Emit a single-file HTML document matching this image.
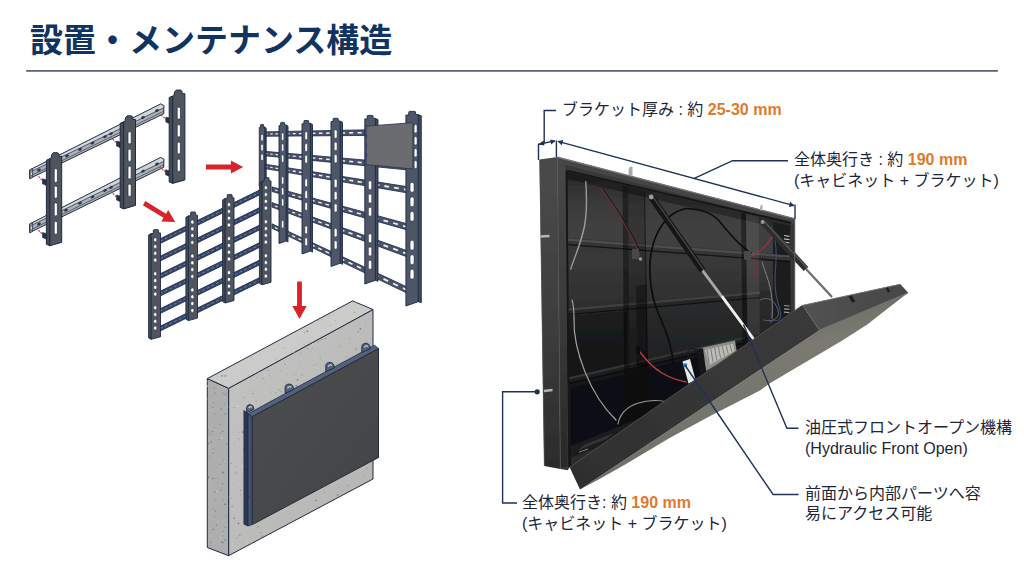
<!DOCTYPE html>
<html lang="ja">
<head>
<meta charset="utf-8">
<title>設置・メンテナンス構造</title>
<style>
html,body{margin:0;padding:0;background:#fff;}
body{width:1024px;height:572px;overflow:hidden;position:relative;font-family:"Liberation Sans","Noto Sans CJK JP",sans-serif;}
#slide{position:absolute;left:0;top:0;width:1024px;height:572px;background:#fff;overflow:hidden;}
#slide svg{position:absolute;left:0;top:0;display:block;}
.t{position:absolute;margin:0;white-space:nowrap;color:#1b263a;font-family:"Liberation Sans","Noto Sans CJK JP",sans-serif;line-height:1;}
.t b{font-weight:bold;color:#e07a2b;}
h1.t{font-weight:bold;color:#10335f;}
</style>
</head>
<body>
<div id="slide">
<svg width="1024" height="572" viewBox="0 0 1024 572">
<rect width="1024" height="572" fill="#ffffff"/>
<rect x="26.2" y="70.1" width="971.7" height="1.6" fill="#4a5563"/>
<g id="grid3"><polygon points="262,131.9 335,130.4 408,129 408,135.2 335,135.7 262,136.3" fill="#48536b" stroke="#1e2b44" stroke-width="0.8" stroke-linejoin="round"/>
<line x1="265" y1="134" x2="267.5" y2="134" stroke="#eef0f3" stroke-width="1.1" />
<line x1="270.2" y1="134" x2="272.7" y2="133.9" stroke="#eef0f3" stroke-width="1.1" />
<line x1="275.5" y1="133.9" x2="278.1" y2="133.9" stroke="#eef0f3" stroke-width="1.2" />
<line x1="281" y1="133.8" x2="283.8" y2="133.8" stroke="#eef0f3" stroke-width="1.2" />
<line x1="286.8" y1="133.7" x2="289.6" y2="133.7" stroke="#eef0f3" stroke-width="1.2" />
<line x1="292.8" y1="133.7" x2="295.7" y2="133.6" stroke="#eef0f3" stroke-width="1.3" />
<line x1="299" y1="133.6" x2="302" y2="133.5" stroke="#eef0f3" stroke-width="1.3" />
<line x1="305.4" y1="133.5" x2="308.5" y2="133.4" stroke="#eef0f3" stroke-width="1.3" />
<line x1="312" y1="133.4" x2="315.3" y2="133.3" stroke="#eef0f3" stroke-width="1.4" />
<line x1="318.9" y1="133.3" x2="322.4" y2="133.2" stroke="#eef0f3" stroke-width="1.4" />
<line x1="326.1" y1="133.2" x2="329.7" y2="133.1" stroke="#eef0f3" stroke-width="1.5" />
<line x1="333.6" y1="133.1" x2="337.2" y2="133" stroke="#eef0f3" stroke-width="1.5" />
<line x1="341.3" y1="133" x2="345.1" y2="132.9" stroke="#eef0f3" stroke-width="1.5" />
<line x1="349.3" y1="132.9" x2="353.2" y2="132.8" stroke="#eef0f3" stroke-width="1.6" />
<line x1="357.6" y1="132.8" x2="361.7" y2="132.7" stroke="#eef0f3" stroke-width="1.6" />
<line x1="366.2" y1="132.6" x2="370.4" y2="132.6" stroke="#eef0f3" stroke-width="1.7" />
<line x1="375.1" y1="132.5" x2="379.5" y2="132.5" stroke="#eef0f3" stroke-width="1.7" />
<line x1="384.4" y1="132.4" x2="389" y2="132.3" stroke="#eef0f3" stroke-width="1.8" />
<line x1="394" y1="132.3" x2="398.8" y2="132.2" stroke="#eef0f3" stroke-width="1.8" />
<line x1="404" y1="132.1" x2="408.9" y2="132" stroke="#eef0f3" stroke-width="1.9" />
<polygon points="262,151.1 335,157.4 408,163.8 408,170 335,162.7 262,155.5" fill="#48536b" stroke="#1e2b44" stroke-width="0.8" stroke-linejoin="round"/>
<line x1="265" y1="153.6" x2="267.5" y2="153.8" stroke="#eef0f3" stroke-width="1.1" />
<line x1="270.2" y1="154" x2="272.7" y2="154.3" stroke="#eef0f3" stroke-width="1.1" />
<line x1="275.5" y1="154.5" x2="278.1" y2="154.8" stroke="#eef0f3" stroke-width="1.2" />
<line x1="281" y1="155.1" x2="283.8" y2="155.3" stroke="#eef0f3" stroke-width="1.2" />
<line x1="286.8" y1="155.6" x2="289.6" y2="155.9" stroke="#eef0f3" stroke-width="1.2" />
<line x1="292.8" y1="156.1" x2="295.7" y2="156.4" stroke="#eef0f3" stroke-width="1.3" />
<line x1="299" y1="156.7" x2="302" y2="157" stroke="#eef0f3" stroke-width="1.3" />
<line x1="305.4" y1="157.3" x2="308.5" y2="157.6" stroke="#eef0f3" stroke-width="1.3" />
<line x1="312" y1="157.9" x2="315.3" y2="158.3" stroke="#eef0f3" stroke-width="1.4" />
<line x1="318.9" y1="158.6" x2="322.4" y2="158.9" stroke="#eef0f3" stroke-width="1.4" />
<line x1="326.1" y1="159.3" x2="329.7" y2="159.6" stroke="#eef0f3" stroke-width="1.5" />
<line x1="333.6" y1="160" x2="337.2" y2="160.3" stroke="#eef0f3" stroke-width="1.5" />
<line x1="341.3" y1="160.7" x2="345.1" y2="161" stroke="#eef0f3" stroke-width="1.5" />
<line x1="349.3" y1="161.4" x2="353.2" y2="161.8" stroke="#eef0f3" stroke-width="1.6" />
<line x1="357.6" y1="162.2" x2="361.7" y2="162.6" stroke="#eef0f3" stroke-width="1.6" />
<line x1="366.2" y1="163" x2="370.4" y2="163.4" stroke="#eef0f3" stroke-width="1.7" />
<line x1="375.1" y1="163.9" x2="379.5" y2="164.3" stroke="#eef0f3" stroke-width="1.7" />
<line x1="384.4" y1="164.7" x2="389" y2="165.1" stroke="#eef0f3" stroke-width="1.8" />
<line x1="394" y1="165.6" x2="398.8" y2="166.1" stroke="#eef0f3" stroke-width="1.8" />
<line x1="404" y1="166.6" x2="408.9" y2="167" stroke="#eef0f3" stroke-width="1.9" />
<polygon points="262,163.7 335,175.3 408,186.8 408,193 335,180.6 262,168.1" fill="#48536b" stroke="#1e2b44" stroke-width="0.8" stroke-linejoin="round"/>
<line x1="265" y1="166.4" x2="267.5" y2="166.8" stroke="#eef0f3" stroke-width="1.1" />
<line x1="270.2" y1="167.3" x2="272.7" y2="167.7" stroke="#eef0f3" stroke-width="1.1" />
<line x1="275.5" y1="168.1" x2="278.1" y2="168.6" stroke="#eef0f3" stroke-width="1.2" />
<line x1="281" y1="169" x2="283.8" y2="169.5" stroke="#eef0f3" stroke-width="1.2" />
<line x1="286.8" y1="170" x2="289.6" y2="170.5" stroke="#eef0f3" stroke-width="1.2" />
<line x1="292.8" y1="171" x2="295.7" y2="171.5" stroke="#eef0f3" stroke-width="1.3" />
<line x1="299" y1="172" x2="302" y2="172.5" stroke="#eef0f3" stroke-width="1.3" />
<line x1="305.4" y1="173" x2="308.5" y2="173.6" stroke="#eef0f3" stroke-width="1.3" />
<line x1="312" y1="174.1" x2="315.3" y2="174.7" stroke="#eef0f3" stroke-width="1.4" />
<line x1="318.9" y1="175.3" x2="322.4" y2="175.8" stroke="#eef0f3" stroke-width="1.4" />
<line x1="326.1" y1="176.5" x2="329.7" y2="177" stroke="#eef0f3" stroke-width="1.5" />
<line x1="333.6" y1="177.7" x2="337.2" y2="178.3" stroke="#eef0f3" stroke-width="1.5" />
<line x1="341.3" y1="178.9" x2="345.1" y2="179.6" stroke="#eef0f3" stroke-width="1.5" />
<line x1="349.3" y1="180.3" x2="353.2" y2="180.9" stroke="#eef0f3" stroke-width="1.6" />
<line x1="357.6" y1="181.6" x2="361.7" y2="182.3" stroke="#eef0f3" stroke-width="1.6" />
<line x1="366.2" y1="183" x2="370.4" y2="183.7" stroke="#eef0f3" stroke-width="1.7" />
<line x1="375.1" y1="184.5" x2="379.5" y2="185.2" stroke="#eef0f3" stroke-width="1.7" />
<line x1="384.4" y1="186" x2="389" y2="186.8" stroke="#eef0f3" stroke-width="1.8" />
<line x1="394" y1="187.6" x2="398.8" y2="188.4" stroke="#eef0f3" stroke-width="1.8" />
<line x1="404" y1="189.2" x2="408.9" y2="190.1" stroke="#eef0f3" stroke-width="1.9" />
<polygon points="272,186.9 340,205.5 408,224 408,230.2 340,210.9 272,191.5" fill="#48536b" stroke="#1e2b44" stroke-width="0.8" stroke-linejoin="round"/>
<line x1="275" y1="190" x2="277.6" y2="190.8" stroke="#eef0f3" stroke-width="1.2" />
<line x1="280.5" y1="191.6" x2="283.3" y2="192.3" stroke="#eef0f3" stroke-width="1.2" />
<line x1="286.3" y1="193.2" x2="289.1" y2="194" stroke="#eef0f3" stroke-width="1.2" />
<line x1="292.2" y1="194.8" x2="295.1" y2="195.7" stroke="#eef0f3" stroke-width="1.3" />
<line x1="298.4" y1="196.6" x2="301.4" y2="197.4" stroke="#eef0f3" stroke-width="1.3" />
<line x1="304.8" y1="198.3" x2="307.9" y2="199.2" stroke="#eef0f3" stroke-width="1.3" />
<line x1="311.4" y1="200.2" x2="314.7" y2="201.1" stroke="#eef0f3" stroke-width="1.4" />
<line x1="318.3" y1="202.1" x2="321.7" y2="203.1" stroke="#eef0f3" stroke-width="1.4" />
<line x1="325.4" y1="204.1" x2="329" y2="205.1" stroke="#eef0f3" stroke-width="1.4" />
<line x1="332.9" y1="206.2" x2="336.5" y2="207.2" stroke="#eef0f3" stroke-width="1.5" />
<line x1="340.6" y1="208.3" x2="344.4" y2="209.4" stroke="#eef0f3" stroke-width="1.5" />
<line x1="348.5" y1="210.6" x2="352.5" y2="211.7" stroke="#eef0f3" stroke-width="1.6" />
<line x1="356.8" y1="212.9" x2="360.9" y2="214" stroke="#eef0f3" stroke-width="1.6" />
<line x1="365.4" y1="215.3" x2="369.6" y2="216.4" stroke="#eef0f3" stroke-width="1.7" />
<line x1="374.3" y1="217.7" x2="378.7" y2="219" stroke="#eef0f3" stroke-width="1.7" />
<line x1="383.5" y1="220.3" x2="388.1" y2="221.6" stroke="#eef0f3" stroke-width="1.8" />
<line x1="393.1" y1="223" x2="397.9" y2="224.3" stroke="#eef0f3" stroke-width="1.8" />
<line x1="403.1" y1="225.8" x2="408" y2="227.1" stroke="#eef0f3" stroke-width="1.9" />
<polygon points="272,202.6 340,226.8 408,251 408,257.2 340,232.2 272,207.1" fill="#48536b" stroke="#1e2b44" stroke-width="0.8" stroke-linejoin="round"/>
<line x1="275" y1="206" x2="277.6" y2="206.9" stroke="#eef0f3" stroke-width="1.2" />
<line x1="280.5" y1="208" x2="283.3" y2="208.9" stroke="#eef0f3" stroke-width="1.2" />
<line x1="286.3" y1="210" x2="289.1" y2="211.1" stroke="#eef0f3" stroke-width="1.2" />
<line x1="292.2" y1="212.2" x2="295.1" y2="213.2" stroke="#eef0f3" stroke-width="1.3" />
<line x1="298.4" y1="214.4" x2="301.4" y2="215.5" stroke="#eef0f3" stroke-width="1.3" />
<line x1="304.8" y1="216.7" x2="307.9" y2="217.9" stroke="#eef0f3" stroke-width="1.3" />
<line x1="311.4" y1="219.1" x2="314.7" y2="220.3" stroke="#eef0f3" stroke-width="1.4" />
<line x1="318.3" y1="221.6" x2="321.7" y2="222.9" stroke="#eef0f3" stroke-width="1.4" />
<line x1="325.4" y1="224.2" x2="329" y2="225.5" stroke="#eef0f3" stroke-width="1.4" />
<line x1="332.9" y1="226.9" x2="336.5" y2="228.2" stroke="#eef0f3" stroke-width="1.5" />
<line x1="340.6" y1="229.7" x2="344.4" y2="231.1" stroke="#eef0f3" stroke-width="1.5" />
<line x1="348.5" y1="232.6" x2="352.5" y2="234" stroke="#eef0f3" stroke-width="1.6" />
<line x1="356.8" y1="235.6" x2="360.9" y2="237" stroke="#eef0f3" stroke-width="1.6" />
<line x1="365.4" y1="238.7" x2="369.6" y2="240.2" stroke="#eef0f3" stroke-width="1.7" />
<line x1="374.3" y1="241.9" x2="378.7" y2="243.5" stroke="#eef0f3" stroke-width="1.7" />
<line x1="383.5" y1="245.2" x2="388.1" y2="246.9" stroke="#eef0f3" stroke-width="1.8" />
<line x1="393.1" y1="248.7" x2="397.9" y2="250.4" stroke="#eef0f3" stroke-width="1.8" />
<line x1="403.1" y1="252.3" x2="408" y2="254.1" stroke="#eef0f3" stroke-width="1.9" />
<polygon points="272,223.8 340,255.6 408,287.4 408,293.6 340,261 272,228.3" fill="#48536b" stroke="#1e2b44" stroke-width="0.8" stroke-linejoin="round"/>
<line x1="275" y1="227.5" x2="277.6" y2="228.7" stroke="#eef0f3" stroke-width="1.2" />
<line x1="280.5" y1="230.1" x2="283.3" y2="231.4" stroke="#eef0f3" stroke-width="1.2" />
<line x1="286.3" y1="232.8" x2="289.1" y2="234.2" stroke="#eef0f3" stroke-width="1.2" />
<line x1="292.2" y1="235.6" x2="295.1" y2="237" stroke="#eef0f3" stroke-width="1.3" />
<line x1="298.4" y1="238.6" x2="301.4" y2="240" stroke="#eef0f3" stroke-width="1.3" />
<line x1="304.8" y1="241.6" x2="307.9" y2="243.1" stroke="#eef0f3" stroke-width="1.3" />
<line x1="311.4" y1="244.7" x2="314.7" y2="246.3" stroke="#eef0f3" stroke-width="1.4" />
<line x1="318.3" y1="248" x2="321.7" y2="249.6" stroke="#eef0f3" stroke-width="1.4" />
<line x1="325.4" y1="251.4" x2="329" y2="253.1" stroke="#eef0f3" stroke-width="1.4" />
<line x1="332.9" y1="254.9" x2="336.5" y2="256.6" stroke="#eef0f3" stroke-width="1.5" />
<line x1="340.6" y1="258.6" x2="344.4" y2="260.4" stroke="#eef0f3" stroke-width="1.5" />
<line x1="348.5" y1="262.3" x2="352.5" y2="264.2" stroke="#eef0f3" stroke-width="1.6" />
<line x1="356.8" y1="266.3" x2="360.9" y2="268.2" stroke="#eef0f3" stroke-width="1.6" />
<line x1="365.4" y1="270.3" x2="369.6" y2="272.3" stroke="#eef0f3" stroke-width="1.7" />
<line x1="374.3" y1="274.6" x2="378.7" y2="276.6" stroke="#eef0f3" stroke-width="1.7" />
<line x1="383.5" y1="278.9" x2="388.1" y2="281.1" stroke="#eef0f3" stroke-width="1.8" />
<line x1="393.1" y1="283.5" x2="397.9" y2="285.7" stroke="#eef0f3" stroke-width="1.8" />
<line x1="403.1" y1="288.2" x2="408" y2="290.5" stroke="#eef0f3" stroke-width="1.9" />
<polygon points="264.8,127.1 266.2,128.3 266.2,185.1 264.8,184.1" fill="#414a5c" stroke="#1e2b44" stroke-width="0.9" stroke-linejoin="round"/>
<polygon points="259.3,186 259.3,127.5 260.5,127.5 260.6,124.9 261,124.6 263.4,124.6 263.6,125 263.7,127.1 264.8,127.1 264.8,184.1" fill="#4e5667" stroke="#1e2b44" stroke-width="0.9" stroke-linejoin="miter"/>
<rect x="260.9" y="134.4" width="2.3" height="6.7" rx="1.1" fill="#ffffff" stroke="#1e2b44" stroke-width="0.5"/>
<rect x="260.9" y="144.2" width="2.3" height="6.7" rx="1.1" fill="#ffffff" stroke="#1e2b44" stroke-width="0.5"/>
<rect x="260.9" y="153.9" width="2.3" height="6.7" rx="1.1" fill="#ffffff" stroke="#1e2b44" stroke-width="0.5"/>
<polygon points="286.2,125 288,126.2 288,242 286.2,241" fill="#414a5c" stroke="#1e2b44" stroke-width="0.9" stroke-linejoin="round"/>
<polygon points="279,243.5 279,125.5 280.6,125.5 280.7,122.7 281.2,122.4 284.3,122.4 284.6,122.8 284.8,125 286.2,125 286.2,241" fill="#4e5667" stroke="#1e2b44" stroke-width="0.9" stroke-linejoin="miter"/>
<rect x="281.5" y="133" width="2.3" height="7.4" rx="1.1" fill="#ffffff" stroke="#1e2b44" stroke-width="0.5"/>
<rect x="281.5" y="143.9" width="2.3" height="7.4" rx="1.1" fill="#ffffff" stroke="#1e2b44" stroke-width="0.5"/>
<rect x="281.5" y="154.9" width="2.3" height="7.4" rx="1.1" fill="#ffffff" stroke="#1e2b44" stroke-width="0.5"/>
<rect x="281.5" y="176.8" width="2.3" height="7.4" rx="1.1" fill="#ffffff" stroke="#1e2b44" stroke-width="0.5"/>
<rect x="281.5" y="187.7" width="2.3" height="7.4" rx="1.1" fill="#ffffff" stroke="#1e2b44" stroke-width="0.5"/>
<rect x="281.5" y="198.7" width="2.3" height="7.4" rx="1.1" fill="#ffffff" stroke="#1e2b44" stroke-width="0.5"/>
<rect x="281.5" y="220.6" width="2.3" height="7.4" rx="1.1" fill="#ffffff" stroke="#1e2b44" stroke-width="0.5"/>
<polygon points="310.4,123.3 312.5,124.5 312.5,252.1 310.4,251.1" fill="#414a5c" stroke="#1e2b44" stroke-width="0.9" stroke-linejoin="round"/>
<polygon points="302,254 302,123.8 303.8,123.8 304,120.8 304.5,120.5 308.2,120.5 308.6,120.9 308.7,123.3 310.4,123.3 310.4,251.1" fill="#4e5667" stroke="#1e2b44" stroke-width="0.9" stroke-linejoin="miter"/>
<rect x="304.9" y="131.7" width="2.6" height="8" rx="1.3" fill="#ffffff" stroke="#1e2b44" stroke-width="0.5"/>
<rect x="304.9" y="143.5" width="2.6" height="8" rx="1.3" fill="#ffffff" stroke="#1e2b44" stroke-width="0.5"/>
<rect x="304.9" y="155.2" width="2.6" height="8" rx="1.3" fill="#ffffff" stroke="#1e2b44" stroke-width="0.5"/>
<rect x="304.9" y="178.8" width="2.6" height="8" rx="1.3" fill="#ffffff" stroke="#1e2b44" stroke-width="0.5"/>
<rect x="304.9" y="190.6" width="2.6" height="8" rx="1.3" fill="#ffffff" stroke="#1e2b44" stroke-width="0.5"/>
<rect x="304.9" y="202.4" width="2.6" height="8" rx="1.3" fill="#ffffff" stroke="#1e2b44" stroke-width="0.5"/>
<rect x="304.9" y="225.9" width="2.6" height="8" rx="1.3" fill="#ffffff" stroke="#1e2b44" stroke-width="0.5"/>
<rect x="304.9" y="237.7" width="2.6" height="8" rx="1.3" fill="#ffffff" stroke="#1e2b44" stroke-width="0.5"/>
<polygon points="340.2,121.1 342.5,122.3 342.5,264.3 340.2,263.3" fill="#414a5c" stroke="#1e2b44" stroke-width="0.9" stroke-linejoin="round"/>
<polygon points="331,266.5 331,121.6 333,121.6 333.2,118.6 333.8,118.3 337.8,118.3 338.2,118.7 338.4,121.1 340.2,121.1 340.2,263.3" fill="#4e5667" stroke="#1e2b44" stroke-width="0.9" stroke-linejoin="miter"/>
<rect x="334.2" y="129.9" width="2.9" height="8.4" rx="1.4" fill="#ffffff" stroke="#1e2b44" stroke-width="0.5"/>
<rect x="334.2" y="142.2" width="2.9" height="8.4" rx="1.4" fill="#ffffff" stroke="#1e2b44" stroke-width="0.5"/>
<rect x="334.2" y="154.5" width="2.9" height="8.4" rx="1.4" fill="#ffffff" stroke="#1e2b44" stroke-width="0.5"/>
<rect x="334.2" y="179.2" width="2.9" height="8.4" rx="1.4" fill="#ffffff" stroke="#1e2b44" stroke-width="0.5"/>
<rect x="334.2" y="191.5" width="2.9" height="8.4" rx="1.4" fill="#ffffff" stroke="#1e2b44" stroke-width="0.5"/>
<rect x="334.2" y="203.8" width="2.9" height="8.4" rx="1.4" fill="#ffffff" stroke="#1e2b44" stroke-width="0.5"/>
<rect x="334.2" y="228.5" width="2.9" height="8.4" rx="1.4" fill="#ffffff" stroke="#1e2b44" stroke-width="0.5"/>
<rect x="334.2" y="240.8" width="2.9" height="8.4" rx="1.4" fill="#ffffff" stroke="#1e2b44" stroke-width="0.5"/>
<polygon points="375.4,118.4 378,119.6 378,281.3 375.4,280.3" fill="#414a5c" stroke="#1e2b44" stroke-width="0.9" stroke-linejoin="round"/>
<polygon points="364.8,284 364.8,118.9 367.1,118.9 367.3,115.7 368,115.4 372.6,115.4 373,115.8 373.2,118.4 375.4,118.4 375.4,280.3" fill="#4e5667" stroke="#1e2b44" stroke-width="0.9" stroke-linejoin="miter"/>
<rect x="368.4" y="180.7" width="3.3" height="9" rx="1.6" fill="#ffffff" stroke="#1e2b44" stroke-width="0.5"/>
<rect x="368.4" y="194" width="3.3" height="9" rx="1.6" fill="#ffffff" stroke="#1e2b44" stroke-width="0.5"/>
<rect x="368.4" y="207.2" width="3.3" height="9" rx="1.6" fill="#ffffff" stroke="#1e2b44" stroke-width="0.5"/>
<rect x="368.4" y="233.8" width="3.3" height="9" rx="1.6" fill="#ffffff" stroke="#1e2b44" stroke-width="0.5"/>
<rect x="368.4" y="247" width="3.3" height="9" rx="1.6" fill="#ffffff" stroke="#1e2b44" stroke-width="0.5"/>
<rect x="368.4" y="260.3" width="3.3" height="9" rx="1.6" fill="#ffffff" stroke="#1e2b44" stroke-width="0.5"/>
<polygon points="418.2,114.6 421.3,115.8 421.3,302.7 418.2,301.7" fill="#414a5c" stroke="#1e2b44" stroke-width="0.9" stroke-linejoin="round"/>
<polygon points="405.9,306 405.9,115.1 408.6,115.1 408.9,111.7 409.6,111.4 415,111.4 415.5,111.8 415.8,114.6 418.2,114.6 418.2,301.7" fill="#4e5667" stroke="#1e2b44" stroke-width="0.9" stroke-linejoin="miter"/>
<rect x="410.1" y="182.4" width="3.9" height="9.8" rx="1.9" fill="#ffffff" stroke="#1e2b44" stroke-width="0.5"/>
<rect x="410.1" y="196.9" width="3.9" height="9.8" rx="1.9" fill="#ffffff" stroke="#1e2b44" stroke-width="0.5"/>
<rect x="410.1" y="211.4" width="3.9" height="9.8" rx="1.9" fill="#ffffff" stroke="#1e2b44" stroke-width="0.5"/>
<rect x="410.1" y="240.3" width="3.9" height="9.8" rx="1.9" fill="#ffffff" stroke="#1e2b44" stroke-width="0.5"/>
<rect x="410.1" y="254.8" width="3.9" height="9.8" rx="1.9" fill="#ffffff" stroke="#1e2b44" stroke-width="0.5"/>
<rect x="410.1" y="269.3" width="3.9" height="9.8" rx="1.9" fill="#ffffff" stroke="#1e2b44" stroke-width="0.5"/>
<polygon points="366.1,126.2 412.9,122.7 412.9,169 366.1,164.6" fill="#6b6c6f" stroke="#30394c" stroke-width="0.9" stroke-linejoin="round"/>
<rect x="414.1" y="124.5" width="3" height="8.5" rx="1.5" fill="#ffffff" stroke="#1e2b44" stroke-width="0.6"/>
<rect x="414.1" y="136.5" width="3" height="8.5" rx="1.5" fill="#ffffff" stroke="#1e2b44" stroke-width="0.6"/>
<rect x="414.1" y="148.5" width="3" height="8.5" rx="1.5" fill="#ffffff" stroke="#1e2b44" stroke-width="0.6"/>
<rect x="414.1" y="160.5" width="3" height="8" rx="1.5" fill="#ffffff" stroke="#1e2b44" stroke-width="0.6"/>
<rect x="365.2" y="134.5" width="2" height="2.6" fill="#2b3f86"/>
<rect x="365.2" y="144.5" width="2" height="2.6" fill="#2b3f86"/>
<rect x="365.2" y="154.5" width="2" height="2.6" fill="#2b3f86"/></g>
<g id="grid2"><polygon points="158,239.8 262,188.9 262,193.7 158,244.6" fill="#33446a" stroke="#1e2b44" stroke-width="0.8" stroke-linejoin="round"/>
<line x1="160" y1="241.2" x2="261" y2="191.8" stroke="#7f8aa3" stroke-width="0.9" stroke-dasharray="3 2.2"/>
<polygon points="158,257.3 262,206.4 262,211.2 158,262.1" fill="#33446a" stroke="#1e2b44" stroke-width="0.8" stroke-linejoin="round"/>
<line x1="160" y1="258.7" x2="261" y2="209.3" stroke="#7f8aa3" stroke-width="0.9" stroke-dasharray="3 2.2"/>
<polygon points="158,274.8 262,223.9 262,228.7 158,279.6" fill="#33446a" stroke="#1e2b44" stroke-width="0.8" stroke-linejoin="round"/>
<line x1="160" y1="276.2" x2="261" y2="226.8" stroke="#7f8aa3" stroke-width="0.9" stroke-dasharray="3 2.2"/>
<polygon points="158,292.3 262,241.4 262,246.2 158,297.1" fill="#33446a" stroke="#1e2b44" stroke-width="0.8" stroke-linejoin="round"/>
<line x1="160" y1="293.7" x2="261" y2="244.3" stroke="#7f8aa3" stroke-width="0.9" stroke-dasharray="3 2.2"/>
<polygon points="158,309.8 262,258.9 262,263.7 158,314.6" fill="#33446a" stroke="#1e2b44" stroke-width="0.8" stroke-linejoin="round"/>
<line x1="160" y1="311.2" x2="261" y2="261.8" stroke="#7f8aa3" stroke-width="0.9" stroke-dasharray="3 2.2"/>
<polygon points="158,327.3 262,276.4 262,281.2 158,332.1" fill="#33446a" stroke="#1e2b44" stroke-width="0.8" stroke-linejoin="round"/>
<line x1="160" y1="328.7" x2="261" y2="279.3" stroke="#7f8aa3" stroke-width="0.9" stroke-dasharray="3 2.2"/>
<polygon points="148.6,235 151.2,233.5 151.2,339.3 148.6,337.8" fill="#454b56" stroke="#1e2b44" stroke-width="0.9" stroke-linejoin="round"/>
<polygon points="151.2,339.3 151.2,233.5 153.2,233.5 153.4,230 154,229.7 158.1,229.7 158.5,230.1 158.6,232.9 160.5,232.9 160.5,336.8" fill="#4f545d" stroke="#1e2b44" stroke-width="0.9" stroke-linejoin="miter"/>
<rect x="153.7" y="237.7" width="3.1" height="4" rx="1.6" fill="#ffffff" stroke="#1e2b44" stroke-width="0.5"/>
<rect x="153.7" y="244.5" width="3.1" height="4" rx="1.6" fill="#ffffff" stroke="#1e2b44" stroke-width="0.5"/>
<rect x="153.7" y="251.3" width="3.1" height="4" rx="1.6" fill="#ffffff" stroke="#1e2b44" stroke-width="0.5"/>
<rect x="153.7" y="258.1" width="3.1" height="4" rx="1.6" fill="#ffffff" stroke="#1e2b44" stroke-width="0.5"/>
<rect x="153.7" y="271.7" width="3.1" height="4" rx="1.6" fill="#ffffff" stroke="#1e2b44" stroke-width="0.5"/>
<rect x="153.7" y="278.5" width="3.1" height="4" rx="1.6" fill="#ffffff" stroke="#1e2b44" stroke-width="0.5"/>
<rect x="153.7" y="285.3" width="3.1" height="4" rx="1.6" fill="#ffffff" stroke="#1e2b44" stroke-width="0.5"/>
<rect x="153.7" y="292.1" width="3.1" height="4" rx="1.6" fill="#ffffff" stroke="#1e2b44" stroke-width="0.5"/>
<rect x="153.7" y="305.7" width="3.1" height="4" rx="1.6" fill="#ffffff" stroke="#1e2b44" stroke-width="0.5"/>
<rect x="153.7" y="312.5" width="3.1" height="4" rx="1.6" fill="#ffffff" stroke="#1e2b44" stroke-width="0.5"/>
<rect x="153.7" y="319.3" width="3.1" height="4" rx="1.6" fill="#ffffff" stroke="#1e2b44" stroke-width="0.5"/>
<rect x="153.7" y="326.1" width="3.1" height="4" rx="1.6" fill="#ffffff" stroke="#1e2b44" stroke-width="0.5"/>
<polygon points="185.9,217.3 188.5,215.8 188.5,320.6 185.9,319.1" fill="#454b56" stroke="#1e2b44" stroke-width="0.9" stroke-linejoin="round"/>
<polygon points="188.5,320.6 188.5,215.8 190.5,215.8 190.7,212.3 191.2,212 195.2,212 195.5,212.4 195.7,215.2 197.5,215.2 197.5,318.1" fill="#4f545d" stroke="#1e2b44" stroke-width="0.9" stroke-linejoin="miter"/>
<rect x="190.8" y="220" width="3.1" height="4" rx="1.6" fill="#ffffff" stroke="#1e2b44" stroke-width="0.5"/>
<rect x="190.8" y="226.8" width="3.1" height="4" rx="1.6" fill="#ffffff" stroke="#1e2b44" stroke-width="0.5"/>
<rect x="190.8" y="233.6" width="3.1" height="4" rx="1.6" fill="#ffffff" stroke="#1e2b44" stroke-width="0.5"/>
<rect x="190.8" y="240.4" width="3.1" height="4" rx="1.6" fill="#ffffff" stroke="#1e2b44" stroke-width="0.5"/>
<rect x="190.8" y="254" width="3.1" height="4" rx="1.6" fill="#ffffff" stroke="#1e2b44" stroke-width="0.5"/>
<rect x="190.8" y="260.8" width="3.1" height="4" rx="1.6" fill="#ffffff" stroke="#1e2b44" stroke-width="0.5"/>
<rect x="190.8" y="267.6" width="3.1" height="4" rx="1.6" fill="#ffffff" stroke="#1e2b44" stroke-width="0.5"/>
<rect x="190.8" y="274.4" width="3.1" height="4" rx="1.6" fill="#ffffff" stroke="#1e2b44" stroke-width="0.5"/>
<rect x="190.8" y="288" width="3.1" height="4" rx="1.6" fill="#ffffff" stroke="#1e2b44" stroke-width="0.5"/>
<rect x="190.8" y="294.8" width="3.1" height="4" rx="1.6" fill="#ffffff" stroke="#1e2b44" stroke-width="0.5"/>
<rect x="190.8" y="301.6" width="3.1" height="4" rx="1.6" fill="#ffffff" stroke="#1e2b44" stroke-width="0.5"/>
<rect x="190.8" y="308.4" width="3.1" height="4" rx="1.6" fill="#ffffff" stroke="#1e2b44" stroke-width="0.5"/>
<polygon points="222.6,199.9 225.2,198.4 225.2,303 222.6,301.5" fill="#454b56" stroke="#1e2b44" stroke-width="0.9" stroke-linejoin="round"/>
<polygon points="225.2,303 225.2,198.4 227.1,198.4 227.3,194.9 227.8,194.6 231.7,194.6 232.1,195 232.2,197.8 234,197.8 234,300.5" fill="#4f545d" stroke="#1e2b44" stroke-width="0.9" stroke-linejoin="miter"/>
<rect x="227.4" y="202.6" width="3.1" height="4" rx="1.6" fill="#ffffff" stroke="#1e2b44" stroke-width="0.5"/>
<rect x="227.4" y="209.4" width="3.1" height="4" rx="1.6" fill="#ffffff" stroke="#1e2b44" stroke-width="0.5"/>
<rect x="227.4" y="216.2" width="3.1" height="4" rx="1.6" fill="#ffffff" stroke="#1e2b44" stroke-width="0.5"/>
<rect x="227.4" y="223" width="3.1" height="4" rx="1.6" fill="#ffffff" stroke="#1e2b44" stroke-width="0.5"/>
<rect x="227.4" y="236.6" width="3.1" height="4" rx="1.6" fill="#ffffff" stroke="#1e2b44" stroke-width="0.5"/>
<rect x="227.4" y="243.4" width="3.1" height="4" rx="1.6" fill="#ffffff" stroke="#1e2b44" stroke-width="0.5"/>
<rect x="227.4" y="250.2" width="3.1" height="4" rx="1.6" fill="#ffffff" stroke="#1e2b44" stroke-width="0.5"/>
<rect x="227.4" y="257" width="3.1" height="4" rx="1.6" fill="#ffffff" stroke="#1e2b44" stroke-width="0.5"/>
<rect x="227.4" y="270.6" width="3.1" height="4" rx="1.6" fill="#ffffff" stroke="#1e2b44" stroke-width="0.5"/>
<rect x="227.4" y="277.4" width="3.1" height="4" rx="1.6" fill="#ffffff" stroke="#1e2b44" stroke-width="0.5"/>
<rect x="227.4" y="284.2" width="3.1" height="4" rx="1.6" fill="#ffffff" stroke="#1e2b44" stroke-width="0.5"/>
<rect x="227.4" y="291" width="3.1" height="4" rx="1.6" fill="#ffffff" stroke="#1e2b44" stroke-width="0.5"/>
<polygon points="259.4,183 262,181.5 262,284.8 259.4,283.3" fill="#454b56" stroke="#1e2b44" stroke-width="0.9" stroke-linejoin="round"/>
<polygon points="262,284.8 262,181.5 264,181.5 264.2,178 264.7,177.7 268.7,177.7 269,178.1 269.2,180.9 271,180.9 271,282.3" fill="#4f545d" stroke="#1e2b44" stroke-width="0.9" stroke-linejoin="miter"/>
<rect x="264.3" y="185.7" width="3.1" height="4" rx="1.6" fill="#ffffff" stroke="#1e2b44" stroke-width="0.5"/>
<rect x="264.3" y="192.5" width="3.1" height="4" rx="1.6" fill="#ffffff" stroke="#1e2b44" stroke-width="0.5"/>
<rect x="264.3" y="199.3" width="3.1" height="4" rx="1.6" fill="#ffffff" stroke="#1e2b44" stroke-width="0.5"/>
<rect x="264.3" y="206.1" width="3.1" height="4" rx="1.6" fill="#ffffff" stroke="#1e2b44" stroke-width="0.5"/>
<rect x="264.3" y="219.7" width="3.1" height="4" rx="1.6" fill="#ffffff" stroke="#1e2b44" stroke-width="0.5"/>
<rect x="264.3" y="226.5" width="3.1" height="4" rx="1.6" fill="#ffffff" stroke="#1e2b44" stroke-width="0.5"/>
<rect x="264.3" y="233.3" width="3.1" height="4" rx="1.6" fill="#ffffff" stroke="#1e2b44" stroke-width="0.5"/>
<rect x="264.3" y="240.1" width="3.1" height="4" rx="1.6" fill="#ffffff" stroke="#1e2b44" stroke-width="0.5"/>
<rect x="264.3" y="253.7" width="3.1" height="4" rx="1.6" fill="#ffffff" stroke="#1e2b44" stroke-width="0.5"/>
<rect x="264.3" y="260.5" width="3.1" height="4" rx="1.6" fill="#ffffff" stroke="#1e2b44" stroke-width="0.5"/>
<rect x="264.3" y="267.3" width="3.1" height="4" rx="1.6" fill="#ffffff" stroke="#1e2b44" stroke-width="0.5"/>
<rect x="264.3" y="274.1" width="3.1" height="4" rx="1.6" fill="#ffffff" stroke="#1e2b44" stroke-width="0.5"/></g>
<g id="bracket1"><polygon points="29.7,170 160.6,104 163.8,105.6 163.8,113.7 29.7,178.5" fill="#adb1b6" stroke="#1e2b44" stroke-width="1" stroke-linejoin="round"/>
<polygon points="29.7,170 160.6,104 163.8,105.6 163.8,107.8 29.7,172.2" fill="#d3d6d9" stroke="#1e2b44" stroke-width="0.7" stroke-linejoin="round"/>
<line x1="29.7" y1="176.3" x2="163.8" y2="111.3" stroke="#1e2b44" stroke-width="0.6" />
<ellipse cx="39" cy="170" rx="2" ry="1.3" fill="#2a3550" transform="rotate(-26 39 170)"/>
<ellipse cx="67" cy="155.9" rx="2" ry="1.3" fill="#2a3550" transform="rotate(-26 67 155.9)"/>
<ellipse cx="80" cy="149.3" rx="2" ry="1.3" fill="#2a3550" transform="rotate(-26 80 149.3)"/>
<ellipse cx="92.5" cy="143" rx="2" ry="1.3" fill="#2a3550" transform="rotate(-26 92.5 143)"/>
<ellipse cx="105" cy="136.7" rx="2" ry="1.3" fill="#2a3550" transform="rotate(-26 105 136.7)"/>
<ellipse cx="111" cy="133.7" rx="2" ry="1.3" fill="#2a3550" transform="rotate(-26 111 133.7)"/>
<ellipse cx="143" cy="117.5" rx="2" ry="1.3" fill="#2a3550" transform="rotate(-26 143 117.5)"/>
<ellipse cx="157" cy="110.5" rx="2" ry="1.3" fill="#2a3550" transform="rotate(-26 157 110.5)"/>
<polygon points="29.7,224 160.6,157.5 163.8,159.1 163.8,167.2 29.7,232.5" fill="#adb1b6" stroke="#1e2b44" stroke-width="1" stroke-linejoin="round"/>
<polygon points="29.7,224 160.6,157.5 163.8,159.1 163.8,161.3 29.7,226.2" fill="#d3d6d9" stroke="#1e2b44" stroke-width="0.7" stroke-linejoin="round"/>
<line x1="29.7" y1="230.3" x2="163.8" y2="164.8" stroke="#1e2b44" stroke-width="0.6" />
<ellipse cx="39" cy="224" rx="2" ry="1.3" fill="#2a3550" transform="rotate(-26 39 224)"/>
<ellipse cx="66" cy="210.2" rx="2" ry="1.3" fill="#2a3550" transform="rotate(-26 66 210.2)"/>
<ellipse cx="80" cy="203.1" rx="2" ry="1.3" fill="#2a3550" transform="rotate(-26 80 203.1)"/>
<ellipse cx="92.5" cy="196.8" rx="2" ry="1.3" fill="#2a3550" transform="rotate(-26 92.5 196.8)"/>
<ellipse cx="105" cy="190.4" rx="2" ry="1.3" fill="#2a3550" transform="rotate(-26 105 190.4)"/>
<ellipse cx="111" cy="187.4" rx="2" ry="1.3" fill="#2a3550" transform="rotate(-26 111 187.4)"/>
<ellipse cx="143" cy="171.1" rx="2" ry="1.3" fill="#2a3550" transform="rotate(-26 143 171.1)"/>
<ellipse cx="157" cy="164" rx="2" ry="1.3" fill="#2a3550" transform="rotate(-26 157 164)"/>
<polygon points="29.7,170 32.6,168.5 32.6,177.4 29.7,178.8" fill="#8d9299" stroke="#1e2b44" stroke-width="0.7" stroke-linejoin="round"/>
<polygon points="30.4,172.6 32.2,171.8 32.2,175.2 30.4,176" fill="#ffffff" stroke="#1e2b44" stroke-width="0.5" stroke-linejoin="round"/>
<polygon points="29.7,224 32.6,222.5 32.6,231.4 29.7,232.8" fill="#8d9299" stroke="#1e2b44" stroke-width="0.7" stroke-linejoin="round"/>
<polygon points="30.4,226.6 32.2,225.8 32.2,229.2 30.4,230" fill="#ffffff" stroke="#1e2b44" stroke-width="0.5" stroke-linejoin="round"/>
<line x1="38.5" y1="176.4" x2="43" y2="181.3" stroke="#d8434a" stroke-width="1.2" stroke-dasharray="2 1"/>
<polygon points="42.5,178.8 46,179.8 46,185.3 42.5,183.8" fill="#2b3242" stroke="#1e2b44" stroke-width="0.6" stroke-linejoin="round"/>
<line x1="38.5" y1="230" x2="43" y2="235" stroke="#d8434a" stroke-width="1.2" stroke-dasharray="2 1"/>
<polygon points="42.5,232.5 46,233.5 46,239 42.5,237.5" fill="#2b3242" stroke="#1e2b44" stroke-width="0.6" stroke-linejoin="round"/>
<line x1="110.5" y1="136.9" x2="117" y2="143.5" stroke="#d8434a" stroke-width="1.2" stroke-dasharray="2 1"/>
<polygon points="116.5,141 120,142 120,147.5 116.5,146" fill="#2b3242" stroke="#1e2b44" stroke-width="0.6" stroke-linejoin="round"/>
<line x1="110.5" y1="191.3" x2="117" y2="197.5" stroke="#d8434a" stroke-width="1.2" stroke-dasharray="2 1"/>
<polygon points="116.5,195 120,196 120,201.5 116.5,200" fill="#2b3242" stroke="#1e2b44" stroke-width="0.6" stroke-linejoin="round"/>
<line x1="161" y1="114.9" x2="166.3" y2="119.6" stroke="#d8434a" stroke-width="1.2" stroke-dasharray="2 1"/>
<polygon points="165.8,117.1 169.3,118.1 169.3,123.6 165.8,122.1" fill="#2b3242" stroke="#1e2b44" stroke-width="0.6" stroke-linejoin="round"/>
<line x1="159.5" y1="166.7" x2="166" y2="172.2" stroke="#d8434a" stroke-width="1.2" stroke-dasharray="2 1"/>
<polygon points="165.5,169.7 169,170.7 169,176.2 165.5,174.7" fill="#2b3242" stroke="#1e2b44" stroke-width="0.6" stroke-linejoin="round"/>
<polygon points="46.4,160.2 49.9,158.7 49.9,245.8 46.4,244.3" fill="#454b56" stroke="#1e2b44" stroke-width="1" stroke-linejoin="round"/>
<polygon points="49.9,245.8 49.9,158.7 51.1,158.5 51.7,154.7 53.4,152.7 57.6,152.7 58.9,154 59.1,156.4 61.7,156.4 61.7,242.3" fill="#4f545d" stroke="#1e2b44" stroke-width="1" stroke-linejoin="miter"/>
<rect x="54.2" y="168.5" width="3.2" height="14" rx="1.6" fill="#ffffff" stroke="#1e2b44" stroke-width="0.7"/>
<rect x="54.2" y="186" width="3.2" height="12.3" rx="1.6" fill="#ffffff" stroke="#1e2b44" stroke-width="0.7"/>
<rect x="54.2" y="202.7" width="3.2" height="13.3" rx="1.6" fill="#ffffff" stroke="#1e2b44" stroke-width="0.7"/>
<rect x="54.2" y="221.2" width="3.2" height="13.2" rx="1.6" fill="#ffffff" stroke="#1e2b44" stroke-width="0.7"/>
<polygon points="120.2,123.3 123.7,121.8 123.7,208.9 120.2,207.4" fill="#454b56" stroke="#1e2b44" stroke-width="1" stroke-linejoin="round"/>
<polygon points="123.7,208.9 123.7,121.8 124.9,121.6 125.5,117.8 127.2,115.8 131.4,115.8 132.7,117.1 132.9,119.5 135.5,119.5 135.5,205.4" fill="#4f545d" stroke="#1e2b44" stroke-width="1" stroke-linejoin="miter"/>
<rect x="128" y="131.6" width="3.2" height="12.3" rx="1.6" fill="#ffffff" stroke="#1e2b44" stroke-width="0.7"/>
<rect x="128" y="149" width="3.2" height="12.5" rx="1.6" fill="#ffffff" stroke="#1e2b44" stroke-width="0.7"/>
<rect x="128" y="165.9" width="3.2" height="13.1" rx="1.6" fill="#ffffff" stroke="#1e2b44" stroke-width="0.7"/>
<rect x="128" y="184" width="3.2" height="12.5" rx="1.6" fill="#ffffff" stroke="#1e2b44" stroke-width="0.7"/>
<polygon points="169.2,97.5 172.7,96 172.7,183.4 169.2,181.9" fill="#454b56" stroke="#1e2b44" stroke-width="1" stroke-linejoin="round"/>
<polygon points="172.7,183.4 172.7,96 173.9,95.8 174.5,92 176.4,90 180.6,90 182,91.3 182.2,93.7 184.9,93.7 184.9,179.9" fill="#4f545d" stroke="#1e2b44" stroke-width="1" stroke-linejoin="miter"/>
<rect x="177.2" y="107" width="3.2" height="12.3" rx="1.6" fill="#ffffff" stroke="#1e2b44" stroke-width="0.7"/>
<rect x="177.2" y="124.5" width="3.2" height="12.5" rx="1.6" fill="#ffffff" stroke="#1e2b44" stroke-width="0.7"/>
<rect x="177.2" y="142" width="3.2" height="12" rx="1.6" fill="#ffffff" stroke="#1e2b44" stroke-width="0.7"/>
<rect x="177.2" y="159" width="3.2" height="12.6" rx="1.6" fill="#ffffff" stroke="#1e2b44" stroke-width="0.7"/></g>
<g id="wall"><defs><linearGradient id="wf" x1="0" y1="0" x2="1" y2="1"><stop offset="0" stop-color="#c4c5c3"/><stop offset="1" stop-color="#b4b5b3"/></linearGradient><clipPath id="cwt"><polygon points="207.3,378.6 352.6,300.9 373,309.5 228.6,388.3"/></clipPath><clipPath id="cws"><polygon points="207.3,378.6 228.6,388.3 228.6,555.7 207.3,547.5"/></clipPath><clipPath id="cwf"><polygon points="228.6,388.3 373,309.5 373,479 228.6,555.7"/></clipPath></defs>
<polygon points="228.6,388.3 373,309.5 373,479 228.6,555.7" fill="url(#wf)" stroke="#1e2b44" stroke-width="1" stroke-linejoin="round"/>
<polygon points="207.3,378.6 228.6,388.3 228.6,555.7 207.3,547.5" fill="#adaead" stroke="#1e2b44" stroke-width="1" stroke-linejoin="round"/>
<polygon points="207.3,378.6 352.6,300.9 373,309.5 228.6,388.3" fill="#cbccca" stroke="#1e2b44" stroke-width="1" stroke-linejoin="round"/>
<g clip-path="url(#cwf)"><circle cx="275.6" cy="346.3" r="0.9" fill="#8d8f8e"/><circle cx="239.4" cy="441.4" r="0.5" fill="#a6a8a7"/><circle cx="237.4" cy="434.3" r="0.4" fill="#8d8f8e"/><circle cx="291.4" cy="326.3" r="0.4" fill="#a6a8a7"/><circle cx="290.1" cy="513.2" r="0.4" fill="#9a9c9b"/><circle cx="319.8" cy="453" r="0.4" fill="#a6a8a7"/><circle cx="313.3" cy="321.2" r="0.5" fill="#8d8f8e"/><circle cx="309.2" cy="341.9" r="0.6" fill="#9a9c9b"/><circle cx="306.9" cy="450" r="0.7" fill="#979998"/><circle cx="255" cy="452.7" r="0.9" fill="#9a9c9b"/><circle cx="282.6" cy="444.3" r="0.4" fill="#a6a8a7"/><circle cx="237.6" cy="359.9" r="0.9" fill="#a6a8a7"/><circle cx="290.6" cy="386.6" r="0.7" fill="#7d7f80"/><circle cx="281.1" cy="370.4" r="0.5" fill="#979998"/><circle cx="341.3" cy="329.2" r="0.5" fill="#a6a8a7"/><circle cx="300.3" cy="393.8" r="0.6" fill="#d6d7d5"/><circle cx="316.7" cy="327.1" r="0.7" fill="#7d7f80"/><circle cx="252.8" cy="393.5" r="0.6" fill="#7d7f80"/><circle cx="234.6" cy="474" r="0.7" fill="#a6a8a7"/><circle cx="342.6" cy="511.1" r="0.5" fill="#979998"/><circle cx="279.4" cy="431.7" r="0.6" fill="#8d8f8e"/><circle cx="350" cy="542.3" r="0.6" fill="#979998"/><circle cx="324.6" cy="324" r="0.9" fill="#d6d7d5"/><circle cx="322.2" cy="554.3" r="0.6" fill="#d6d7d5"/><circle cx="332.2" cy="528.1" r="0.5" fill="#8d8f8e"/><circle cx="364.5" cy="396.8" r="0.7" fill="#8d8f8e"/><circle cx="300.1" cy="362.9" r="0.5" fill="#9a9c9b"/><circle cx="335.3" cy="407.3" r="0.6" fill="#8d8f8e"/><circle cx="253" cy="408.2" r="0.5" fill="#9a9c9b"/><circle cx="347" cy="522.4" r="0.5" fill="#979998"/><circle cx="288.8" cy="397.6" r="0.6" fill="#9a9c9b"/><circle cx="250.7" cy="352.5" r="0.5" fill="#979998"/><circle cx="262.6" cy="428.8" r="0.7" fill="#9a9c9b"/><circle cx="266.8" cy="310" r="0.6" fill="#a6a8a7"/><circle cx="282.2" cy="448.9" r="0.5" fill="#979998"/><circle cx="352.7" cy="543.7" r="0.9" fill="#979998"/><circle cx="335.5" cy="421.8" r="0.9" fill="#a6a8a7"/><circle cx="285.5" cy="407.5" r="0.4" fill="#7d7f80"/><circle cx="320.3" cy="324.4" r="0.4" fill="#9a9c9b"/><circle cx="292.5" cy="336.2" r="0.7" fill="#8d8f8e"/><circle cx="243.7" cy="449" r="0.7" fill="#8d8f8e"/><circle cx="365.6" cy="460.6" r="0.4" fill="#9a9c9b"/><circle cx="317.4" cy="345.7" r="0.5" fill="#d6d7d5"/><circle cx="315.7" cy="426.1" r="0.4" fill="#7d7f80"/><circle cx="372" cy="424.1" r="0.6" fill="#d6d7d5"/><circle cx="241.4" cy="334.2" r="0.5" fill="#979998"/><circle cx="267.1" cy="513.7" r="0.5" fill="#a6a8a7"/><circle cx="232.3" cy="543.9" r="0.7" fill="#d6d7d5"/><circle cx="250.1" cy="443.2" r="0.4" fill="#a6a8a7"/><circle cx="271.9" cy="467.8" r="0.4" fill="#979998"/><circle cx="350.7" cy="437" r="0.5" fill="#d6d7d5"/><circle cx="340.2" cy="440.6" r="0.7" fill="#d6d7d5"/><circle cx="320.6" cy="460.5" r="0.5" fill="#9a9c9b"/><circle cx="346.8" cy="491.7" r="0.5" fill="#9a9c9b"/><circle cx="303.5" cy="396.8" r="0.4" fill="#8d8f8e"/><circle cx="342.8" cy="425.6" r="0.5" fill="#979998"/><circle cx="316.1" cy="394" r="0.9" fill="#d6d7d5"/><circle cx="366.5" cy="399.1" r="0.5" fill="#8d8f8e"/><circle cx="261.7" cy="357.6" r="0.5" fill="#7d7f80"/><circle cx="318.9" cy="531.4" r="0.4" fill="#7d7f80"/><circle cx="359.9" cy="394" r="0.9" fill="#8d8f8e"/><circle cx="349.2" cy="338.6" r="0.6" fill="#979998"/><circle cx="337" cy="427.1" r="0.5" fill="#7d7f80"/><circle cx="342.6" cy="391.1" r="0.9" fill="#7d7f80"/><circle cx="295.7" cy="492.6" r="0.4" fill="#979998"/><circle cx="251.9" cy="554.3" r="0.4" fill="#9a9c9b"/><circle cx="314.1" cy="423.9" r="0.9" fill="#9a9c9b"/><circle cx="317.1" cy="456.2" r="0.6" fill="#979998"/><circle cx="364" cy="347.5" r="0.7" fill="#9a9c9b"/><circle cx="232.1" cy="506.4" r="0.9" fill="#979998"/><circle cx="243.8" cy="494.1" r="0.5" fill="#7d7f80"/><circle cx="371.1" cy="357.1" r="0.5" fill="#8d8f8e"/><circle cx="265.3" cy="381.4" r="0.5" fill="#a6a8a7"/><circle cx="275.9" cy="443.5" r="0.5" fill="#8d8f8e"/><circle cx="360" cy="396.4" r="0.6" fill="#979998"/><circle cx="313" cy="532.4" r="0.6" fill="#a6a8a7"/><circle cx="247.8" cy="346.5" r="0.7" fill="#8d8f8e"/><circle cx="354.7" cy="500.8" r="0.7" fill="#8d8f8e"/><circle cx="340.7" cy="346" r="0.5" fill="#7d7f80"/><circle cx="318.2" cy="338.7" r="0.4" fill="#d6d7d5"/><circle cx="327.3" cy="440.1" r="0.6" fill="#8d8f8e"/><circle cx="356.2" cy="323" r="0.5" fill="#d6d7d5"/><circle cx="235.1" cy="333.1" r="0.6" fill="#a6a8a7"/><circle cx="233" cy="529.8" r="0.4" fill="#7d7f80"/><circle cx="275.9" cy="549.4" r="0.7" fill="#a6a8a7"/><circle cx="257.7" cy="377.5" r="0.7" fill="#a6a8a7"/><circle cx="345.3" cy="434.4" r="0.5" fill="#979998"/><circle cx="304.3" cy="525.4" r="0.5" fill="#a6a8a7"/><circle cx="357.6" cy="359" r="0.6" fill="#9a9c9b"/><circle cx="289" cy="405.9" r="0.5" fill="#8d8f8e"/><circle cx="325.6" cy="414.8" r="0.5" fill="#979998"/><circle cx="272.6" cy="339.2" r="0.5" fill="#979998"/><circle cx="321.7" cy="399.4" r="0.5" fill="#9a9c9b"/><circle cx="368.3" cy="363.2" r="0.4" fill="#7d7f80"/><circle cx="356.4" cy="349.2" r="0.9" fill="#9a9c9b"/><circle cx="252.3" cy="415.6" r="0.7" fill="#7d7f80"/><circle cx="277.8" cy="357.3" r="0.5" fill="#8d8f8e"/><circle cx="333" cy="313.8" r="0.7" fill="#7d7f80"/><circle cx="292.4" cy="313.5" r="0.5" fill="#a6a8a7"/><circle cx="318.8" cy="435.5" r="0.4" fill="#8d8f8e"/><circle cx="370.9" cy="503.7" r="0.4" fill="#8d8f8e"/><circle cx="267.2" cy="318.8" r="0.5" fill="#d6d7d5"/><circle cx="337.8" cy="511.5" r="0.9" fill="#d6d7d5"/><circle cx="287.5" cy="441.5" r="0.7" fill="#a6a8a7"/><circle cx="300.2" cy="389.8" r="0.5" fill="#8d8f8e"/><circle cx="344.1" cy="354.3" r="0.4" fill="#d6d7d5"/><circle cx="364.1" cy="465.7" r="0.5" fill="#8d8f8e"/><circle cx="316.6" cy="363.9" r="0.5" fill="#8d8f8e"/><circle cx="294.3" cy="392.8" r="0.7" fill="#7d7f80"/><circle cx="362.4" cy="375.2" r="0.5" fill="#8d8f8e"/><circle cx="304.9" cy="367.9" r="0.4" fill="#9a9c9b"/><circle cx="266.7" cy="353.7" r="0.5" fill="#979998"/><circle cx="272.9" cy="496.6" r="0.5" fill="#7d7f80"/><circle cx="301" cy="352.9" r="0.5" fill="#8d8f8e"/><circle cx="372.2" cy="318.1" r="0.4" fill="#979998"/><circle cx="301.8" cy="550.6" r="0.7" fill="#7d7f80"/><circle cx="264.4" cy="419.4" r="0.9" fill="#979998"/><circle cx="291.2" cy="431.3" r="0.6" fill="#a6a8a7"/><circle cx="273.3" cy="362.1" r="0.5" fill="#d6d7d5"/><circle cx="257.6" cy="526.8" r="0.9" fill="#979998"/><circle cx="249.1" cy="553.4" r="0.4" fill="#9a9c9b"/><circle cx="231.1" cy="463.5" r="0.5" fill="#7d7f80"/><circle cx="252.5" cy="329.9" r="0.6" fill="#a6a8a7"/><circle cx="325.6" cy="378.6" r="0.5" fill="#979998"/><circle cx="271.2" cy="422.5" r="0.5" fill="#d6d7d5"/><circle cx="293.2" cy="374" r="0.5" fill="#a6a8a7"/><circle cx="275.6" cy="317.5" r="0.5" fill="#9a9c9b"/><circle cx="280.3" cy="309.3" r="0.6" fill="#8d8f8e"/><circle cx="297.3" cy="433.2" r="0.5" fill="#9a9c9b"/><circle cx="301.7" cy="310.2" r="0.5" fill="#8d8f8e"/><circle cx="249.7" cy="453.9" r="0.6" fill="#8d8f8e"/><circle cx="272.1" cy="464.5" r="0.4" fill="#a6a8a7"/><circle cx="366.9" cy="519.8" r="0.5" fill="#979998"/><circle cx="357.6" cy="502.7" r="0.7" fill="#7d7f80"/><circle cx="339.1" cy="487" r="0.6" fill="#9a9c9b"/><circle cx="269.9" cy="461.8" r="0.5" fill="#8d8f8e"/><circle cx="347.8" cy="485.6" r="0.7" fill="#979998"/><circle cx="290.8" cy="482.2" r="0.7" fill="#9a9c9b"/><circle cx="360" cy="495" r="0.7" fill="#8d8f8e"/><circle cx="348" cy="453.3" r="0.9" fill="#979998"/><circle cx="366.7" cy="467.8" r="0.4" fill="#8d8f8e"/><circle cx="235" cy="466.4" r="0.4" fill="#7d7f80"/><circle cx="349.4" cy="447" r="0.9" fill="#8d8f8e"/><circle cx="319.2" cy="477.1" r="0.6" fill="#d6d7d5"/><circle cx="229.5" cy="506" r="0.9" fill="#a6a8a7"/><circle cx="358.3" cy="331.7" r="0.7" fill="#8d8f8e"/><circle cx="336.4" cy="426" r="0.4" fill="#d6d7d5"/><circle cx="262.8" cy="495.8" r="0.5" fill="#979998"/><circle cx="322.6" cy="422.7" r="0.6" fill="#8d8f8e"/><circle cx="298" cy="477.9" r="0.4" fill="#a6a8a7"/><circle cx="320.1" cy="358" r="0.7" fill="#9a9c9b"/><circle cx="276.8" cy="469.9" r="0.9" fill="#d6d7d5"/><circle cx="318.4" cy="342" r="0.6" fill="#8d8f8e"/><circle cx="299" cy="549.2" r="0.4" fill="#979998"/><circle cx="260.3" cy="429.9" r="0.9" fill="#a6a8a7"/><circle cx="270.1" cy="424.1" r="0.4" fill="#a6a8a7"/><circle cx="257.7" cy="550.6" r="0.6" fill="#8d8f8e"/><circle cx="270.7" cy="327.9" r="0.7" fill="#7d7f80"/><circle cx="372.1" cy="404.6" r="0.5" fill="#8d8f8e"/><circle cx="312.7" cy="344" r="0.7" fill="#d6d7d5"/><circle cx="366.2" cy="341.8" r="0.9" fill="#a6a8a7"/><circle cx="269.3" cy="336.8" r="0.5" fill="#9a9c9b"/><circle cx="300.7" cy="525.4" r="0.6" fill="#8d8f8e"/><circle cx="251.9" cy="543.6" r="0.9" fill="#7d7f80"/><circle cx="287.4" cy="488.6" r="0.6" fill="#d6d7d5"/><circle cx="283.2" cy="338.9" r="0.5" fill="#8d8f8e"/><circle cx="275.7" cy="392.6" r="0.6" fill="#8d8f8e"/><circle cx="364.3" cy="357.3" r="0.4" fill="#979998"/><circle cx="270.7" cy="400.9" r="0.6" fill="#7d7f80"/><circle cx="372.8" cy="454.5" r="0.5" fill="#7d7f80"/><circle cx="337.8" cy="520" r="0.5" fill="#8d8f8e"/><circle cx="236.4" cy="472.5" r="0.9" fill="#9a9c9b"/><circle cx="264.9" cy="374.6" r="0.7" fill="#d6d7d5"/><circle cx="256.3" cy="401.2" r="0.6" fill="#8d8f8e"/><circle cx="345.9" cy="464.8" r="0.7" fill="#a6a8a7"/><circle cx="258.3" cy="328.9" r="0.9" fill="#7d7f80"/><circle cx="293.9" cy="494.9" r="0.9" fill="#d6d7d5"/><circle cx="298.9" cy="534.2" r="0.7" fill="#9a9c9b"/><circle cx="253.6" cy="411.5" r="0.5" fill="#d6d7d5"/><circle cx="265.8" cy="491.5" r="0.9" fill="#d6d7d5"/><circle cx="287.5" cy="368" r="0.6" fill="#a6a8a7"/><circle cx="325.3" cy="338.6" r="0.9" fill="#9a9c9b"/><circle cx="239.8" cy="432.6" r="0.6" fill="#a6a8a7"/><circle cx="260.7" cy="532.8" r="0.6" fill="#7d7f80"/><circle cx="249.1" cy="356.5" r="0.4" fill="#9a9c9b"/><circle cx="278.2" cy="331.5" r="0.5" fill="#d6d7d5"/><circle cx="266.2" cy="449.7" r="0.4" fill="#979998"/><circle cx="354.4" cy="403.6" r="0.9" fill="#a6a8a7"/><circle cx="259.2" cy="375.7" r="0.4" fill="#7d7f80"/><circle cx="269" cy="548" r="0.5" fill="#979998"/><circle cx="301.5" cy="464.5" r="0.5" fill="#8d8f8e"/><circle cx="268" cy="370.4" r="0.6" fill="#979998"/><circle cx="293.2" cy="544.6" r="0.4" fill="#9a9c9b"/><circle cx="233.6" cy="484.2" r="0.6" fill="#a6a8a7"/><circle cx="299.5" cy="327.1" r="0.7" fill="#7d7f80"/><circle cx="369" cy="370.4" r="0.4" fill="#9a9c9b"/><circle cx="251.2" cy="438" r="0.9" fill="#8d8f8e"/><circle cx="364.6" cy="487.3" r="0.9" fill="#7d7f80"/><circle cx="241.2" cy="500.9" r="0.4" fill="#9a9c9b"/><circle cx="262.5" cy="536.2" r="0.9" fill="#979998"/><circle cx="272.7" cy="340.6" r="0.5" fill="#a6a8a7"/><circle cx="320.6" cy="481.5" r="0.4" fill="#8d8f8e"/><circle cx="239.1" cy="438.5" r="0.7" fill="#9a9c9b"/><circle cx="284.9" cy="364.2" r="0.7" fill="#8d8f8e"/><circle cx="230.5" cy="383.5" r="0.6" fill="#d6d7d5"/><circle cx="367.1" cy="468.2" r="0.5" fill="#7d7f80"/><circle cx="304.8" cy="444.1" r="0.4" fill="#7d7f80"/><circle cx="330.5" cy="384.9" r="0.4" fill="#9a9c9b"/><circle cx="300.8" cy="475.6" r="0.6" fill="#8d8f8e"/><circle cx="266" cy="473.8" r="0.5" fill="#9a9c9b"/><circle cx="300" cy="480.9" r="0.9" fill="#7d7f80"/><circle cx="281.2" cy="406.9" r="0.4" fill="#d6d7d5"/><circle cx="335.4" cy="433.7" r="0.5" fill="#7d7f80"/><circle cx="368.7" cy="386" r="0.5" fill="#9a9c9b"/><circle cx="296" cy="374.5" r="0.5" fill="#8d8f8e"/><circle cx="366.1" cy="431.5" r="0.5" fill="#9a9c9b"/><circle cx="298.8" cy="533.9" r="0.4" fill="#a6a8a7"/><circle cx="250.1" cy="406.2" r="0.5" fill="#8d8f8e"/><circle cx="369.3" cy="344.1" r="0.4" fill="#979998"/><circle cx="237.7" cy="406.2" r="0.9" fill="#d6d7d5"/><circle cx="334.5" cy="555.4" r="0.5" fill="#d6d7d5"/><circle cx="256.5" cy="470.2" r="0.7" fill="#979998"/><circle cx="296.3" cy="386" r="0.9" fill="#7d7f80"/><circle cx="349.8" cy="552.3" r="0.6" fill="#9a9c9b"/><circle cx="244.7" cy="328.3" r="0.4" fill="#d6d7d5"/><circle cx="289.5" cy="527.6" r="0.7" fill="#9a9c9b"/><circle cx="283.7" cy="498.9" r="0.5" fill="#7d7f80"/><circle cx="241.6" cy="483.2" r="0.5" fill="#d6d7d5"/><circle cx="307" cy="419.2" r="0.5" fill="#d6d7d5"/><circle cx="335.2" cy="426.2" r="0.9" fill="#7d7f80"/><circle cx="264.7" cy="463.5" r="0.6" fill="#8d8f8e"/><circle cx="283.1" cy="423.6" r="0.4" fill="#d6d7d5"/><circle cx="257.1" cy="324.5" r="0.7" fill="#d6d7d5"/><circle cx="281.3" cy="391.7" r="0.7" fill="#8d8f8e"/><circle cx="266.8" cy="486" r="0.5" fill="#d6d7d5"/><circle cx="271.8" cy="487.2" r="0.7" fill="#979998"/><circle cx="365.3" cy="325.1" r="0.5" fill="#8d8f8e"/><circle cx="297.4" cy="545.3" r="0.6" fill="#d6d7d5"/><circle cx="360.6" cy="510.3" r="0.5" fill="#7d7f80"/><circle cx="255.3" cy="507.2" r="0.9" fill="#d6d7d5"/><circle cx="347.5" cy="499.9" r="0.7" fill="#9a9c9b"/><circle cx="276.2" cy="387.9" r="0.5" fill="#a6a8a7"/><circle cx="240.4" cy="357.7" r="0.5" fill="#9a9c9b"/><circle cx="287.7" cy="469.4" r="0.6" fill="#a6a8a7"/><circle cx="307.4" cy="348.7" r="0.6" fill="#8d8f8e"/><circle cx="371.2" cy="374.4" r="0.4" fill="#9a9c9b"/><circle cx="242.9" cy="432.1" r="0.9" fill="#7d7f80"/><circle cx="253.9" cy="341.8" r="0.6" fill="#a6a8a7"/><circle cx="357.3" cy="367" r="0.7" fill="#979998"/><circle cx="338.4" cy="501.6" r="0.5" fill="#d6d7d5"/><circle cx="269.2" cy="375.1" r="0.5" fill="#979998"/><circle cx="266.5" cy="417.5" r="0.5" fill="#9a9c9b"/><circle cx="262.9" cy="378.5" r="0.7" fill="#9a9c9b"/><circle cx="276" cy="406.8" r="0.5" fill="#a6a8a7"/><circle cx="304.8" cy="469.5" r="0.4" fill="#979998"/><circle cx="295.8" cy="318.1" r="0.4" fill="#7d7f80"/><circle cx="356.1" cy="366.1" r="0.6" fill="#d6d7d5"/><circle cx="234.8" cy="381.5" r="0.4" fill="#8d8f8e"/><circle cx="256.3" cy="549.3" r="0.7" fill="#9a9c9b"/><circle cx="362.9" cy="400.9" r="0.5" fill="#7d7f80"/><circle cx="315.8" cy="500.4" r="0.9" fill="#8d8f8e"/><circle cx="244.2" cy="456.2" r="0.7" fill="#d6d7d5"/><circle cx="260.3" cy="400.1" r="0.5" fill="#8d8f8e"/><circle cx="258.4" cy="372" r="0.7" fill="#979998"/><circle cx="322.8" cy="359.3" r="0.4" fill="#d6d7d5"/><circle cx="287.9" cy="400.8" r="0.7" fill="#d6d7d5"/><circle cx="240.2" cy="316.8" r="0.6" fill="#a6a8a7"/><circle cx="298.6" cy="409.8" r="0.6" fill="#979998"/><circle cx="308.2" cy="466.9" r="0.4" fill="#979998"/><circle cx="252.6" cy="480.8" r="0.6" fill="#d6d7d5"/><circle cx="325.2" cy="412.2" r="0.4" fill="#d6d7d5"/><circle cx="336.3" cy="527.3" r="0.6" fill="#7d7f80"/><circle cx="231.6" cy="498.4" r="0.5" fill="#979998"/><circle cx="257.4" cy="488.8" r="0.5" fill="#8d8f8e"/><circle cx="291.5" cy="347.7" r="0.4" fill="#8d8f8e"/><circle cx="287.5" cy="527.1" r="0.6" fill="#9a9c9b"/><circle cx="247.7" cy="321.8" r="0.5" fill="#979998"/><circle cx="345.1" cy="407" r="0.7" fill="#a6a8a7"/><circle cx="362.5" cy="491.1" r="0.5" fill="#9a9c9b"/><circle cx="279.1" cy="349" r="0.5" fill="#8d8f8e"/><circle cx="244.7" cy="430.2" r="0.5" fill="#d6d7d5"/><circle cx="247.2" cy="541.9" r="0.6" fill="#d6d7d5"/><circle cx="236.7" cy="537.8" r="0.6" fill="#8d8f8e"/><circle cx="359.2" cy="462.2" r="0.5" fill="#979998"/><circle cx="342.2" cy="363.9" r="0.6" fill="#a6a8a7"/><circle cx="350.9" cy="513.8" r="0.5" fill="#a6a8a7"/><circle cx="260.4" cy="407.7" r="0.7" fill="#9a9c9b"/><circle cx="284.2" cy="339.4" r="0.5" fill="#979998"/><circle cx="346.5" cy="356.6" r="0.7" fill="#979998"/><circle cx="234.5" cy="516" r="0.4" fill="#7d7f80"/><circle cx="315.3" cy="444.9" r="0.9" fill="#d6d7d5"/><circle cx="322.5" cy="385.1" r="0.5" fill="#7d7f80"/><circle cx="285" cy="399.8" r="0.7" fill="#7d7f80"/><circle cx="254.7" cy="309.9" r="0.6" fill="#7d7f80"/><circle cx="262.9" cy="497.6" r="0.6" fill="#9a9c9b"/><circle cx="345.7" cy="407.9" r="0.4" fill="#9a9c9b"/><circle cx="280.6" cy="399.2" r="0.6" fill="#a6a8a7"/><circle cx="302.5" cy="319.1" r="0.9" fill="#9a9c9b"/><circle cx="240.8" cy="490.2" r="0.9" fill="#a6a8a7"/><circle cx="240.5" cy="494.8" r="0.6" fill="#979998"/><circle cx="365.9" cy="342.6" r="0.4" fill="#a6a8a7"/><circle cx="334.4" cy="510.3" r="0.5" fill="#9a9c9b"/><circle cx="370.4" cy="430.5" r="0.5" fill="#979998"/><circle cx="342.5" cy="538.9" r="0.4" fill="#d6d7d5"/><circle cx="316.9" cy="371.3" r="0.5" fill="#a6a8a7"/><circle cx="268.6" cy="510.5" r="0.5" fill="#d6d7d5"/><circle cx="301.3" cy="536.2" r="0.5" fill="#a6a8a7"/><circle cx="266.9" cy="434" r="0.5" fill="#d6d7d5"/><circle cx="234.3" cy="354" r="0.5" fill="#979998"/><circle cx="363.8" cy="476.9" r="0.6" fill="#9a9c9b"/><circle cx="343.1" cy="374.3" r="0.7" fill="#8d8f8e"/><circle cx="320.6" cy="397.9" r="0.6" fill="#a6a8a7"/><circle cx="304.1" cy="479.1" r="0.4" fill="#d6d7d5"/><circle cx="372" cy="464.6" r="0.6" fill="#979998"/><circle cx="343.9" cy="374.4" r="0.5" fill="#a6a8a7"/><circle cx="250.1" cy="390.7" r="0.4" fill="#7d7f80"/><circle cx="262.1" cy="461" r="0.4" fill="#d6d7d5"/><circle cx="347.1" cy="371.7" r="0.9" fill="#a6a8a7"/><circle cx="362.7" cy="530.2" r="0.9" fill="#8d8f8e"/><circle cx="336.6" cy="363.7" r="0.5" fill="#a6a8a7"/><circle cx="319.1" cy="412.2" r="0.5" fill="#8d8f8e"/><circle cx="248" cy="365.1" r="0.9" fill="#8d8f8e"/><circle cx="232.2" cy="309.6" r="0.5" fill="#d6d7d5"/><circle cx="244.3" cy="397.2" r="0.5" fill="#7d7f80"/><circle cx="313" cy="454.5" r="0.5" fill="#d6d7d5"/><circle cx="318.8" cy="426.3" r="0.5" fill="#8d8f8e"/><circle cx="363.9" cy="369.2" r="0.5" fill="#7d7f80"/><circle cx="242.8" cy="466.6" r="0.9" fill="#d6d7d5"/><circle cx="286.9" cy="374.3" r="0.4" fill="#8d8f8e"/><circle cx="321.9" cy="447.9" r="0.5" fill="#a6a8a7"/><circle cx="322" cy="418.6" r="0.7" fill="#979998"/><circle cx="300" cy="349.8" r="0.4" fill="#8d8f8e"/><circle cx="237.9" cy="315.2" r="0.5" fill="#9a9c9b"/><circle cx="251.9" cy="534.2" r="0.4" fill="#8d8f8e"/><circle cx="317.2" cy="471.2" r="0.5" fill="#9a9c9b"/><circle cx="288.5" cy="437" r="0.9" fill="#a6a8a7"/><circle cx="322.3" cy="411.6" r="0.7" fill="#9a9c9b"/><circle cx="302.2" cy="324.8" r="0.9" fill="#8d8f8e"/><circle cx="372.1" cy="487.9" r="0.6" fill="#979998"/><circle cx="306.5" cy="401.7" r="0.6" fill="#979998"/><circle cx="360.4" cy="328.9" r="0.9" fill="#7d7f80"/><circle cx="254.3" cy="555.2" r="0.5" fill="#9a9c9b"/><circle cx="321.7" cy="339.4" r="0.9" fill="#979998"/><circle cx="364.8" cy="374" r="0.4" fill="#d6d7d5"/><circle cx="320.6" cy="476.8" r="0.9" fill="#a6a8a7"/><circle cx="369" cy="382" r="0.5" fill="#8d8f8e"/><circle cx="355.7" cy="312.8" r="0.5" fill="#9a9c9b"/><circle cx="350.2" cy="359.1" r="0.5" fill="#979998"/><circle cx="360.8" cy="356.4" r="0.6" fill="#d6d7d5"/><circle cx="315.6" cy="402.7" r="0.9" fill="#979998"/><circle cx="370.4" cy="516.9" r="0.7" fill="#7d7f80"/><circle cx="297" cy="440.1" r="0.4" fill="#8d8f8e"/><circle cx="292" cy="488" r="0.7" fill="#d6d7d5"/><circle cx="342.6" cy="405.7" r="0.7" fill="#8d8f8e"/><circle cx="310.4" cy="351.4" r="0.4" fill="#8d8f8e"/><circle cx="245.1" cy="462.6" r="0.5" fill="#d6d7d5"/><circle cx="369.7" cy="482.1" r="0.4" fill="#8d8f8e"/><circle cx="248.9" cy="468" r="0.4" fill="#979998"/><circle cx="238.8" cy="320.5" r="0.7" fill="#d6d7d5"/><circle cx="257.7" cy="544.8" r="0.7" fill="#979998"/><circle cx="238.5" cy="523.3" r="0.9" fill="#7d7f80"/><circle cx="244.4" cy="359.8" r="0.4" fill="#8d8f8e"/><circle cx="234" cy="518.4" r="0.9" fill="#8d8f8e"/><circle cx="347.8" cy="465" r="0.5" fill="#7d7f80"/><circle cx="243.4" cy="333.2" r="0.9" fill="#9a9c9b"/><circle cx="271.4" cy="392.1" r="0.5" fill="#8d8f8e"/><circle cx="279.5" cy="538.7" r="0.4" fill="#979998"/><circle cx="338.4" cy="533.9" r="0.7" fill="#a6a8a7"/><circle cx="297.6" cy="380" r="0.9" fill="#8d8f8e"/><circle cx="342.6" cy="316.7" r="0.7" fill="#8d8f8e"/><circle cx="278.9" cy="483.1" r="0.7" fill="#a6a8a7"/><circle cx="260.2" cy="522" r="0.4" fill="#a6a8a7"/><circle cx="347.1" cy="351.1" r="0.4" fill="#a6a8a7"/><circle cx="258.1" cy="497.3" r="0.4" fill="#8d8f8e"/><circle cx="279.1" cy="332.6" r="0.9" fill="#9a9c9b"/><circle cx="368.3" cy="455.4" r="0.7" fill="#d6d7d5"/><circle cx="312.2" cy="348.2" r="0.5" fill="#979998"/><circle cx="262.3" cy="350" r="0.9" fill="#8d8f8e"/><circle cx="299.6" cy="553.8" r="0.7" fill="#8d8f8e"/><circle cx="319.4" cy="396.8" r="0.6" fill="#7d7f80"/><circle cx="357.4" cy="493.1" r="0.6" fill="#979998"/><circle cx="232.6" cy="359.9" r="0.5" fill="#7d7f80"/><circle cx="358.8" cy="432.8" r="0.6" fill="#979998"/><circle cx="262.6" cy="422.8" r="0.7" fill="#a6a8a7"/><circle cx="337.6" cy="495" r="0.9" fill="#8d8f8e"/><circle cx="279.2" cy="389.7" r="0.5" fill="#7d7f80"/><circle cx="324.3" cy="492.3" r="0.5" fill="#7d7f80"/><circle cx="292.2" cy="500" r="0.7" fill="#9a9c9b"/><circle cx="247.2" cy="423.1" r="0.9" fill="#9a9c9b"/><circle cx="302.1" cy="375.1" r="0.9" fill="#a6a8a7"/><circle cx="251.3" cy="347.5" r="0.5" fill="#979998"/><circle cx="276" cy="438" r="0.5" fill="#9a9c9b"/><circle cx="276.2" cy="355.8" r="0.9" fill="#8d8f8e"/><circle cx="252.7" cy="471.5" r="0.5" fill="#7d7f80"/><circle cx="250.7" cy="345.6" r="0.5" fill="#979998"/><circle cx="271.8" cy="376.6" r="0.4" fill="#979998"/><circle cx="360.2" cy="378.4" r="0.6" fill="#7d7f80"/><circle cx="233.9" cy="407.6" r="0.6" fill="#979998"/><circle cx="261" cy="551.3" r="0.5" fill="#7d7f80"/><circle cx="232.2" cy="372.5" r="0.9" fill="#7d7f80"/><circle cx="229.8" cy="368.8" r="0.6" fill="#979998"/><circle cx="311.7" cy="494" r="0.6" fill="#9a9c9b"/><circle cx="325.2" cy="470.2" r="0.9" fill="#979998"/><circle cx="313.1" cy="365.5" r="0.5" fill="#979998"/><circle cx="246.9" cy="415.8" r="0.5" fill="#979998"/><circle cx="329.9" cy="530" r="0.5" fill="#7d7f80"/><circle cx="331.7" cy="464.5" r="0.5" fill="#7d7f80"/><circle cx="298.5" cy="313.9" r="0.6" fill="#a6a8a7"/><circle cx="326.2" cy="538.8" r="0.5" fill="#979998"/><circle cx="276.2" cy="311.6" r="0.6" fill="#8d8f8e"/><circle cx="234.5" cy="443.2" r="0.5" fill="#979998"/><circle cx="341.6" cy="541.3" r="0.7" fill="#d6d7d5"/><circle cx="243.6" cy="450.9" r="0.7" fill="#9a9c9b"/><circle cx="332.3" cy="435.5" r="0.9" fill="#d6d7d5"/><circle cx="304.1" cy="410.4" r="0.6" fill="#9a9c9b"/><circle cx="371.6" cy="354.4" r="0.7" fill="#8d8f8e"/><circle cx="334" cy="460.7" r="0.9" fill="#8d8f8e"/><circle cx="265.4" cy="403.3" r="0.4" fill="#8d8f8e"/><circle cx="239.8" cy="535.1" r="0.9" fill="#979998"/><circle cx="326.2" cy="452.3" r="0.4" fill="#9a9c9b"/></g>
<g clip-path="url(#cws)"><circle cx="214" cy="449.3" r="0.7" fill="#909292"/><circle cx="229.9" cy="549" r="0.6" fill="#909292"/><circle cx="210.8" cy="543.4" r="0.4" fill="#909292"/><circle cx="217.8" cy="478" r="0.5" fill="#909292"/><circle cx="215.1" cy="491.7" r="0.6" fill="#77797a"/><circle cx="229.9" cy="513.3" r="0.9" fill="#909292"/><circle cx="224.9" cy="461.6" r="0.5" fill="#c6c7c6"/><circle cx="223.2" cy="500.4" r="0.6" fill="#909292"/><circle cx="218.1" cy="521.4" r="0.5" fill="#c6c7c6"/><circle cx="212.6" cy="431.7" r="0.6" fill="#77797a"/><circle cx="216.9" cy="491.4" r="0.9" fill="#c6c7c6"/><circle cx="210.5" cy="432" r="0.6" fill="#858788"/><circle cx="209" cy="478.5" r="0.5" fill="#909292"/><circle cx="219.2" cy="439.4" r="0.7" fill="#858788"/><circle cx="222.1" cy="415.3" r="0.4" fill="#c6c7c6"/><circle cx="212.8" cy="396.1" r="0.5" fill="#909292"/><circle cx="211.3" cy="458.4" r="0.5" fill="#909292"/><circle cx="227.8" cy="518.9" r="0.5" fill="#9b9d9c"/><circle cx="227.5" cy="486.3" r="0.4" fill="#9b9d9c"/><circle cx="225.1" cy="527.3" r="0.5" fill="#77797a"/><circle cx="222.9" cy="472.5" r="0.9" fill="#77797a"/><circle cx="222.4" cy="398.8" r="0.4" fill="#c6c7c6"/><circle cx="216.6" cy="525.2" r="0.6" fill="#77797a"/><circle cx="219.8" cy="464.2" r="0.5" fill="#77797a"/><circle cx="212.7" cy="407.3" r="0.7" fill="#858788"/><circle cx="210.7" cy="435.1" r="0.9" fill="#9b9d9c"/><circle cx="218.4" cy="430.8" r="0.6" fill="#c6c7c6"/><circle cx="216.8" cy="556" r="0.9" fill="#858788"/><circle cx="211.2" cy="442.1" r="0.9" fill="#858788"/><circle cx="207.5" cy="386.2" r="0.9" fill="#c6c7c6"/><circle cx="225.6" cy="394.7" r="0.6" fill="#77797a"/><circle cx="224.4" cy="403.7" r="0.5" fill="#77797a"/><circle cx="221.4" cy="438.3" r="0.9" fill="#c6c7c6"/><circle cx="214.9" cy="516.6" r="0.7" fill="#909292"/><circle cx="213.5" cy="438.9" r="0.5" fill="#9b9d9c"/><circle cx="208.2" cy="429.5" r="0.5" fill="#77797a"/><circle cx="216.3" cy="467.7" r="0.5" fill="#9b9d9c"/><circle cx="214.9" cy="414.2" r="0.6" fill="#858788"/><circle cx="214.6" cy="434.4" r="0.5" fill="#909292"/><circle cx="220.5" cy="491" r="0.4" fill="#77797a"/><circle cx="223.6" cy="535.6" r="0.7" fill="#9b9d9c"/><circle cx="208.1" cy="431.5" r="0.4" fill="#858788"/><circle cx="211.4" cy="542" r="0.7" fill="#858788"/><circle cx="225.1" cy="539.9" r="0.7" fill="#77797a"/><circle cx="221.2" cy="489.6" r="0.9" fill="#9b9d9c"/><circle cx="227.2" cy="392.8" r="0.4" fill="#77797a"/><circle cx="221.4" cy="409" r="0.9" fill="#909292"/><circle cx="227" cy="453" r="0.4" fill="#858788"/><circle cx="215.5" cy="524.4" r="0.5" fill="#9b9d9c"/><circle cx="223.3" cy="531.5" r="0.5" fill="#77797a"/><circle cx="207.8" cy="381.6" r="0.7" fill="#9b9d9c"/><circle cx="228.5" cy="387.7" r="0.7" fill="#9b9d9c"/><circle cx="207.9" cy="399.2" r="0.6" fill="#9b9d9c"/><circle cx="223" cy="450" r="0.4" fill="#858788"/><circle cx="222.6" cy="483.7" r="0.9" fill="#909292"/><circle cx="217.9" cy="451.4" r="0.4" fill="#858788"/><circle cx="221.8" cy="415.8" r="0.5" fill="#858788"/><circle cx="216.8" cy="379.7" r="0.9" fill="#858788"/><circle cx="229.7" cy="530.8" r="0.5" fill="#858788"/><circle cx="210" cy="381.2" r="0.9" fill="#9b9d9c"/><circle cx="212.6" cy="508.6" r="0.5" fill="#858788"/><circle cx="215.4" cy="511" r="0.9" fill="#909292"/><circle cx="223.8" cy="393" r="0.9" fill="#9b9d9c"/><circle cx="223.3" cy="460" r="0.5" fill="#858788"/><circle cx="223.5" cy="380" r="0.4" fill="#9b9d9c"/><circle cx="208.8" cy="433.4" r="0.9" fill="#9b9d9c"/><circle cx="210.8" cy="531.3" r="0.6" fill="#9b9d9c"/><circle cx="208.4" cy="443.4" r="0.7" fill="#77797a"/><circle cx="217.8" cy="407.6" r="0.4" fill="#c6c7c6"/><circle cx="228.9" cy="407.2" r="0.6" fill="#77797a"/><circle cx="215.9" cy="518" r="0.5" fill="#9b9d9c"/><circle cx="214.7" cy="427.8" r="0.7" fill="#9b9d9c"/><circle cx="214.6" cy="485.8" r="0.4" fill="#909292"/><circle cx="220.8" cy="432.9" r="0.6" fill="#909292"/><circle cx="215.7" cy="499.9" r="0.7" fill="#909292"/><circle cx="225.6" cy="428.4" r="0.4" fill="#c6c7c6"/><circle cx="213.1" cy="453.2" r="0.7" fill="#858788"/><circle cx="213.6" cy="403" r="0.7" fill="#909292"/><circle cx="213.3" cy="529.5" r="0.7" fill="#77797a"/><circle cx="215" cy="393.1" r="0.7" fill="#77797a"/><circle cx="225.3" cy="413.7" r="0.9" fill="#909292"/><circle cx="214.1" cy="388.2" r="0.6" fill="#77797a"/><circle cx="223.3" cy="542.8" r="0.7" fill="#858788"/><circle cx="225.2" cy="459.8" r="0.4" fill="#9b9d9c"/><circle cx="225.6" cy="515.4" r="0.5" fill="#77797a"/><circle cx="220.3" cy="537.7" r="0.7" fill="#c6c7c6"/><circle cx="218" cy="482.9" r="0.5" fill="#909292"/><circle cx="211.4" cy="410.2" r="0.9" fill="#c6c7c6"/><circle cx="215.3" cy="478.5" r="0.6" fill="#9b9d9c"/><circle cx="226.7" cy="421.8" r="0.6" fill="#c6c7c6"/><circle cx="226.9" cy="444.2" r="0.6" fill="#858788"/><circle cx="210.6" cy="484.3" r="0.5" fill="#c6c7c6"/><circle cx="218.9" cy="381.7" r="0.4" fill="#909292"/><circle cx="229.8" cy="532.2" r="0.6" fill="#9b9d9c"/><circle cx="220" cy="424.6" r="0.5" fill="#77797a"/><circle cx="209.2" cy="457.5" r="0.7" fill="#9b9d9c"/><circle cx="229.2" cy="423.2" r="0.4" fill="#c6c7c6"/><circle cx="211.6" cy="410.2" r="0.4" fill="#858788"/><circle cx="208.2" cy="477.2" r="0.9" fill="#77797a"/><circle cx="218.2" cy="528.5" r="0.4" fill="#9b9d9c"/><circle cx="221.7" cy="542.1" r="0.9" fill="#858788"/><circle cx="212.9" cy="478.5" r="0.9" fill="#858788"/><circle cx="229" cy="497.2" r="0.6" fill="#909292"/><circle cx="217.3" cy="406.4" r="0.5" fill="#909292"/><circle cx="211" cy="545.6" r="0.5" fill="#858788"/><circle cx="227.8" cy="539" r="0.4" fill="#c6c7c6"/><circle cx="225.1" cy="504.3" r="0.9" fill="#77797a"/><circle cx="208.3" cy="403.8" r="0.4" fill="#909292"/><circle cx="222.6" cy="431.2" r="0.7" fill="#77797a"/><circle cx="224.4" cy="396.8" r="0.5" fill="#c6c7c6"/></g>
<g clip-path="url(#cwt)"><circle cx="249.7" cy="311" r="0.6" fill="#8a8c8c"/><circle cx="235" cy="321.2" r="0.5" fill="#9a9c9b"/><circle cx="284.7" cy="381.2" r="0.4" fill="#a8aaa9"/><circle cx="361" cy="319.6" r="0.7" fill="#dfe0de"/><circle cx="354.5" cy="312.4" r="0.6" fill="#9a9c9b"/><circle cx="360.7" cy="334.3" r="0.4" fill="#9a9c9b"/><circle cx="282.1" cy="330.2" r="0.5" fill="#8a8c8c"/><circle cx="226.2" cy="332.6" r="0.5" fill="#a8aaa9"/><circle cx="329.2" cy="316" r="0.6" fill="#b1b3b2"/><circle cx="354.6" cy="339.1" r="0.5" fill="#dfe0de"/><circle cx="276.4" cy="322" r="0.4" fill="#dfe0de"/><circle cx="301.8" cy="326.4" r="0.5" fill="#dfe0de"/><circle cx="288.5" cy="328.3" r="0.6" fill="#9a9c9b"/><circle cx="232.5" cy="345.7" r="0.9" fill="#a8aaa9"/><circle cx="300" cy="374.3" r="0.4" fill="#dfe0de"/><circle cx="332.3" cy="386.4" r="0.6" fill="#dfe0de"/><circle cx="372.7" cy="382.3" r="0.4" fill="#8a8c8c"/><circle cx="255" cy="379.8" r="0.4" fill="#dfe0de"/><circle cx="231" cy="356.9" r="0.6" fill="#b1b3b2"/><circle cx="263.6" cy="312.5" r="0.4" fill="#b1b3b2"/><circle cx="254.5" cy="332" r="0.4" fill="#8a8c8c"/><circle cx="243.2" cy="350.8" r="0.5" fill="#a8aaa9"/><circle cx="293.6" cy="320.5" r="0.5" fill="#a8aaa9"/><circle cx="306.7" cy="373.8" r="0.7" fill="#8a8c8c"/><circle cx="333.4" cy="315.6" r="0.5" fill="#b1b3b2"/><circle cx="318.2" cy="355.9" r="0.5" fill="#b1b3b2"/><circle cx="258.1" cy="300.9" r="0.9" fill="#b1b3b2"/><circle cx="274.7" cy="364.2" r="0.4" fill="#b1b3b2"/><circle cx="341.6" cy="329.8" r="0.9" fill="#8a8c8c"/><circle cx="222" cy="336.4" r="0.6" fill="#a8aaa9"/><circle cx="351.8" cy="323.7" r="0.5" fill="#b1b3b2"/><circle cx="345" cy="332.7" r="0.5" fill="#dfe0de"/><circle cx="302.4" cy="376.4" r="0.5" fill="#b1b3b2"/><circle cx="361.7" cy="386.2" r="0.4" fill="#9a9c9b"/><circle cx="266.2" cy="321.8" r="0.5" fill="#8a8c8c"/><circle cx="302.7" cy="379.9" r="0.5" fill="#9a9c9b"/><circle cx="365.4" cy="344" r="0.7" fill="#9a9c9b"/><circle cx="295.1" cy="347.8" r="0.4" fill="#a8aaa9"/><circle cx="367.6" cy="319.9" r="0.5" fill="#a8aaa9"/><circle cx="224" cy="322.3" r="0.4" fill="#9a9c9b"/><circle cx="223" cy="362.2" r="0.5" fill="#dfe0de"/><circle cx="209.9" cy="353.3" r="0.7" fill="#8a8c8c"/><circle cx="293.8" cy="362.5" r="0.4" fill="#dfe0de"/><circle cx="351.3" cy="363.8" r="0.4" fill="#dfe0de"/><circle cx="227.4" cy="343.9" r="0.7" fill="#dfe0de"/><circle cx="225.3" cy="310.8" r="0.5" fill="#b1b3b2"/><circle cx="305.2" cy="376.6" r="0.5" fill="#b1b3b2"/><circle cx="283.7" cy="335.3" r="0.4" fill="#8a8c8c"/><circle cx="322.2" cy="353.1" r="0.7" fill="#b1b3b2"/><circle cx="213" cy="386.4" r="0.4" fill="#dfe0de"/><circle cx="263.2" cy="321.4" r="0.5" fill="#8a8c8c"/><circle cx="346.9" cy="350.2" r="0.5" fill="#8a8c8c"/><circle cx="347.7" cy="304.8" r="0.7" fill="#a8aaa9"/><circle cx="366" cy="383.2" r="0.5" fill="#8a8c8c"/><circle cx="317.1" cy="301" r="0.4" fill="#b1b3b2"/><circle cx="238.1" cy="328.9" r="0.5" fill="#b1b3b2"/><circle cx="318.1" cy="320.1" r="0.6" fill="#8a8c8c"/><circle cx="335.9" cy="383.4" r="0.9" fill="#9a9c9b"/><circle cx="341.3" cy="378.7" r="0.4" fill="#9a9c9b"/><circle cx="350.7" cy="355.3" r="0.9" fill="#b1b3b2"/><circle cx="252.4" cy="348.3" r="0.4" fill="#b1b3b2"/><circle cx="223.7" cy="310.8" r="0.4" fill="#8a8c8c"/><circle cx="246.3" cy="303.5" r="0.4" fill="#dfe0de"/><circle cx="264.7" cy="314.9" r="0.4" fill="#b1b3b2"/><circle cx="366.2" cy="382" r="0.5" fill="#9a9c9b"/><circle cx="284.4" cy="347.5" r="0.5" fill="#8a8c8c"/><circle cx="227.6" cy="311.7" r="0.5" fill="#8a8c8c"/><circle cx="302.8" cy="324.4" r="0.9" fill="#9a9c9b"/><circle cx="329.9" cy="325.6" r="0.6" fill="#b1b3b2"/><circle cx="322.3" cy="319.7" r="0.6" fill="#a8aaa9"/><circle cx="298.1" cy="332.6" r="0.7" fill="#dfe0de"/><circle cx="308.7" cy="341.7" r="0.5" fill="#9a9c9b"/><circle cx="247.2" cy="319.7" r="0.7" fill="#b1b3b2"/><circle cx="270.6" cy="352.1" r="0.4" fill="#dfe0de"/><circle cx="233.9" cy="384.7" r="0.5" fill="#b1b3b2"/><circle cx="261" cy="324" r="0.5" fill="#dfe0de"/><circle cx="216.4" cy="301.9" r="0.7" fill="#9a9c9b"/><circle cx="307.6" cy="331" r="0.9" fill="#9a9c9b"/><circle cx="292.8" cy="374.3" r="0.5" fill="#9a9c9b"/><circle cx="293.5" cy="388" r="0.9" fill="#a8aaa9"/><circle cx="276.2" cy="359.5" r="0.5" fill="#a8aaa9"/><circle cx="309.3" cy="375.6" r="0.7" fill="#9a9c9b"/><circle cx="329.6" cy="366.2" r="0.6" fill="#dfe0de"/><circle cx="337.3" cy="363.1" r="0.9" fill="#a8aaa9"/><circle cx="275.6" cy="309.2" r="0.6" fill="#b1b3b2"/><circle cx="304.2" cy="344.3" r="0.7" fill="#a8aaa9"/><circle cx="276.4" cy="369.7" r="0.7" fill="#b1b3b2"/><circle cx="225.4" cy="375.8" r="0.9" fill="#8a8c8c"/><circle cx="254.8" cy="331.4" r="0.5" fill="#8a8c8c"/><circle cx="294.3" cy="353" r="0.9" fill="#dfe0de"/><circle cx="208.1" cy="366.4" r="0.6" fill="#8a8c8c"/><circle cx="280.7" cy="316.4" r="0.5" fill="#a8aaa9"/><circle cx="279.3" cy="333.6" r="0.5" fill="#9a9c9b"/><circle cx="343.4" cy="329.4" r="0.7" fill="#a8aaa9"/><circle cx="366.2" cy="318.2" r="0.6" fill="#9a9c9b"/><circle cx="211.2" cy="322.8" r="0.6" fill="#dfe0de"/><circle cx="359.8" cy="368.8" r="0.7" fill="#b1b3b2"/><circle cx="372.7" cy="346.1" r="0.7" fill="#8a8c8c"/><circle cx="271.7" cy="331.8" r="0.7" fill="#dfe0de"/><circle cx="282.2" cy="300.9" r="0.4" fill="#b1b3b2"/><circle cx="245.1" cy="336.4" r="0.7" fill="#8a8c8c"/><circle cx="314.7" cy="382.6" r="0.5" fill="#a8aaa9"/><circle cx="367.1" cy="343.3" r="0.6" fill="#b1b3b2"/><circle cx="356.3" cy="352.3" r="0.9" fill="#b1b3b2"/><circle cx="330.9" cy="308.2" r="0.5" fill="#dfe0de"/><circle cx="267.9" cy="306.7" r="0.5" fill="#b1b3b2"/><circle cx="236.1" cy="358.4" r="0.5" fill="#dfe0de"/><circle cx="343.2" cy="388.1" r="0.6" fill="#a8aaa9"/><circle cx="294" cy="372.6" r="0.5" fill="#b1b3b2"/><circle cx="355.3" cy="336.7" r="0.4" fill="#b1b3b2"/><circle cx="307.1" cy="331.4" r="0.9" fill="#9a9c9b"/><circle cx="321.8" cy="301" r="0.4" fill="#dfe0de"/><circle cx="325" cy="349.2" r="0.5" fill="#8a8c8c"/><circle cx="346.8" cy="352.2" r="0.9" fill="#9a9c9b"/><circle cx="239.6" cy="344.3" r="0.7" fill="#b1b3b2"/><circle cx="251.2" cy="357.6" r="0.7" fill="#b1b3b2"/><circle cx="372.5" cy="351.1" r="0.6" fill="#b1b3b2"/><circle cx="227.2" cy="314" r="0.7" fill="#9a9c9b"/><circle cx="211.8" cy="306.8" r="0.7" fill="#8a8c8c"/><circle cx="343.6" cy="354.6" r="0.4" fill="#9a9c9b"/><circle cx="320.6" cy="351.5" r="0.5" fill="#a8aaa9"/><circle cx="265.7" cy="315.1" r="0.5" fill="#9a9c9b"/><circle cx="349.6" cy="384.3" r="0.4" fill="#dfe0de"/><circle cx="238.8" cy="355.5" r="0.4" fill="#9a9c9b"/><circle cx="243.5" cy="335.2" r="0.4" fill="#8a8c8c"/><circle cx="216.1" cy="321.2" r="0.5" fill="#9a9c9b"/><circle cx="233.5" cy="352.2" r="0.5" fill="#dfe0de"/><circle cx="208" cy="377.2" r="0.6" fill="#dfe0de"/><circle cx="276.5" cy="322.4" r="0.6" fill="#9a9c9b"/><circle cx="247.3" cy="334.7" r="0.9" fill="#b1b3b2"/><circle cx="243.8" cy="327.5" r="0.9" fill="#8a8c8c"/><circle cx="210.7" cy="377.3" r="0.4" fill="#a8aaa9"/><circle cx="235.2" cy="333.7" r="0.4" fill="#dfe0de"/><circle cx="272.7" cy="332.3" r="0.5" fill="#b1b3b2"/><circle cx="351.7" cy="329.9" r="0.9" fill="#9a9c9b"/><circle cx="366.6" cy="337.6" r="0.5" fill="#b1b3b2"/><circle cx="247.7" cy="317" r="0.5" fill="#dfe0de"/><circle cx="246.4" cy="303.1" r="0.9" fill="#9a9c9b"/><circle cx="263.7" cy="313.9" r="0.9" fill="#a8aaa9"/><circle cx="222.4" cy="324" r="0.5" fill="#b1b3b2"/><circle cx="280.6" cy="374.4" r="0.5" fill="#a8aaa9"/><circle cx="268.1" cy="319.3" r="0.6" fill="#8a8c8c"/><circle cx="311.5" cy="351.7" r="0.5" fill="#8a8c8c"/><circle cx="290.8" cy="320.2" r="0.6" fill="#a8aaa9"/><circle cx="363.4" cy="388.8" r="0.7" fill="#8a8c8c"/><circle cx="304.5" cy="332.8" r="0.5" fill="#8a8c8c"/><circle cx="308" cy="318.9" r="0.4" fill="#b1b3b2"/><circle cx="222.2" cy="375.8" r="0.9" fill="#8a8c8c"/><circle cx="211.8" cy="363.9" r="0.5" fill="#dfe0de"/><circle cx="209.5" cy="363.3" r="0.9" fill="#a8aaa9"/><circle cx="335.8" cy="320.6" r="0.5" fill="#9a9c9b"/><circle cx="218.3" cy="381.3" r="0.7" fill="#dfe0de"/><circle cx="239" cy="364" r="0.4" fill="#a8aaa9"/><circle cx="254.9" cy="372.7" r="0.6" fill="#dfe0de"/><circle cx="266.1" cy="375.1" r="0.6" fill="#a8aaa9"/><circle cx="362.5" cy="315.7" r="0.5" fill="#dfe0de"/><circle cx="355.9" cy="302.2" r="0.9" fill="#8a8c8c"/><circle cx="248.2" cy="375.4" r="0.5" fill="#9a9c9b"/><circle cx="237.2" cy="310.3" r="0.7" fill="#a8aaa9"/><circle cx="325.3" cy="303.6" r="0.4" fill="#b1b3b2"/><circle cx="233.9" cy="317.6" r="0.5" fill="#a8aaa9"/><circle cx="270.2" cy="303.5" r="0.5" fill="#a8aaa9"/><circle cx="300.7" cy="320.3" r="0.6" fill="#b1b3b2"/><circle cx="249.3" cy="338.7" r="0.9" fill="#b1b3b2"/><circle cx="264.9" cy="300.1" r="0.9" fill="#dfe0de"/><circle cx="356.6" cy="377.9" r="0.7" fill="#b1b3b2"/><circle cx="322.5" cy="386.7" r="0.9" fill="#9a9c9b"/><circle cx="213.2" cy="328.4" r="0.5" fill="#9a9c9b"/><circle cx="276.3" cy="366.2" r="0.9" fill="#b1b3b2"/><circle cx="344.6" cy="325" r="0.4" fill="#dfe0de"/></g>
<polygon points="243.9,410.4 248,413.8 248,526 243.9,524.2" fill="#2b3850" stroke="#1e2b44" stroke-width="0.7" stroke-linejoin="round"/>
<polygon points="248,413.8 252.3,416.7 252.3,524.6 248,526" fill="#46516a" stroke="#1e2b44" stroke-width="0.7" stroke-linejoin="round"/>
<polygon points="248.4,413.6 374.6,345.2 378.5,348.6 252.3,416.7" fill="#55617a" stroke="#1e2b44" stroke-width="0.8" stroke-linejoin="round"/>
<path d="M246.6 413 V407.6 Q246.6 404.9 250.2 404.5 Q253.8 405.3 253.8 408.4 V409.4 Z" fill="#55607c" stroke="#1e2b44" stroke-width="0.9" stroke-linejoin="round"/>
<path d="M248.6 408.2 Q250.2 405.9 252 407.2" fill="none" stroke="#c9cbcb" stroke-width="1.3"/>
<path d="M285.1 393.2 V387.6 Q285.1 384.4 289.3 384 Q293.5 384.8 293.5 388.5 V389.6 Z" fill="#55607c" stroke="#1e2b44" stroke-width="0.9" stroke-linejoin="round"/>
<path d="M287.4 388.3 Q289.3 385.6 291.4 387.2" fill="none" stroke="#c9cbcb" stroke-width="1.3"/>
<path d="M325.8 371.5 V365.9 Q325.8 362.7 330 362.3 Q334.2 363.1 334.2 366.8 V367.9 Z" fill="#55607c" stroke="#1e2b44" stroke-width="0.9" stroke-linejoin="round"/>
<path d="M328.1 366.6 Q330 363.9 332.1 365.5" fill="none" stroke="#c9cbcb" stroke-width="1.3"/>
<path d="M361.8 352.4 V346.8 Q361.8 343.6 366 343.2 Q370.2 344 370.2 347.7 V348.8 Z" fill="#55607c" stroke="#1e2b44" stroke-width="0.9" stroke-linejoin="round"/>
<path d="M364.1 347.5 Q366 344.8 368.1 346.4" fill="none" stroke="#c9cbcb" stroke-width="1.3"/>
<defs><linearGradient id="pf" x1="0" y1="0" x2="1" y2="1"><stop offset="0" stop-color="#4c4d4e"/><stop offset="1" stop-color="#434445"/></linearGradient></defs>
<polygon points="252.3,416.7 378.5,348.6 378.5,457.5 252.3,524.6" fill="url(#pf)" stroke="#222b3d" stroke-width="1" stroke-linejoin="round"/>
<circle cx="248.2" cy="496.5" r="1.0" fill="none" stroke="#1e2b44" stroke-width="0.6"/></g>
<g id="arrows"><polygon points="206,169.4 230.9,169.4 230.9,173.6 243.2,167 230.9,160.4 230.9,164.6 206,164.6" fill="#d8232a"/>
<polygon points="142.9,205.3 163.5,217.8 161.3,221.4 175.2,222.1 168.2,210.1 166,213.7 145.3,201.1" fill="#d8232a"/>
<polygon points="297.1,281.6 297.1,306.1 292.3,306.1 299.5,319.1 306.7,306.1 301.9,306.1 301.9,281.6" fill="#d8232a"/></g>
<g id="cabinet"><defs>
<linearGradient id="cside" gradientUnits="userSpaceOnUse" x1="0" y1="160" x2="0" y2="470"><stop offset="0" stop-color="#4a4a4a"/><stop offset="0.45" stop-color="#404040"/><stop offset="1" stop-color="#2b2b2b"/></linearGradient>
<linearGradient id="cband" gradientUnits="userSpaceOnUse" x1="0" y1="160" x2="0" y2="470"><stop offset="0" stop-color="#474747"/><stop offset="0.45" stop-color="#3c3c3c"/><stop offset="1" stop-color="#282828"/></linearGradient>
<linearGradient id="row1" gradientUnits="userSpaceOnUse" x1="0" y1="180" x2="0" y2="250"><stop offset="0" stop-color="#2c2c2c"/><stop offset="0.3" stop-color="#393939"/><stop offset="0.7" stop-color="#414141"/><stop offset="1" stop-color="#404040"/></linearGradient>
<linearGradient id="row2" gradientUnits="userSpaceOnUse" x1="0" y1="245" x2="0" y2="310"><stop offset="0" stop-color="#363636"/><stop offset="0.3" stop-color="#383838"/><stop offset="1" stop-color="#2c2d2d"/></linearGradient>
<linearGradient id="row3" gradientUnits="userSpaceOnUse" x1="0" y1="300" x2="0" y2="385"><stop offset="0" stop-color="#2a2b2b"/><stop offset="1" stop-color="#1c1e20"/></linearGradient>
<linearGradient id="dface" x1="0" y1="1" x2="1" y2="0"><stop offset="0" stop-color="#2e2e2e"/><stop offset="0.6" stop-color="#373737"/><stop offset="1" stop-color="#3a3a3a"/></linearGradient>
<linearGradient id="dtop" x1="0" y1="0" x2="1" y2="0"><stop offset="0" stop-color="#525252"/><stop offset="1" stop-color="#474747"/></linearGradient>
<linearGradient id="dunder" x1="0" y1="0" x2="0.35" y2="1"><stop offset="0" stop-color="#56564f"/><stop offset="0.45" stop-color="#7a7a73"/><stop offset="1" stop-color="#6d6d66"/></linearGradient>
<clipPath id="cint_clip"><polygon points="567.2,171.8 790.6,223.8 790.6,318 806,305 569.6,467.3 570,470"/></clipPath>
<filter id="soft" x="-5%" y="-5%" width="110%" height="110%"><feGaussianBlur stdDeviation="0.45"/></filter>
</defs>
<g filter="url(#soft)">
<polygon points="539.5,159.5 557.5,157 560.3,469 544.2,466" fill="url(#cside)"/>
<line x1="539.8" y1="160" x2="544.4" y2="466" stroke="#4c4c4c" stroke-width="0.8" />
<polygon points="557.5,157 795,218.6 795,316 806,305 569.6,467.3 567.8,470.2 560.3,469" fill="#383838"/>
<polygon points="557.8,157.4 795,219 795,224 557.8,163" fill="#444444"/>
<line x1="557.5" y1="157.3" x2="795" y2="218.9" stroke="#747474" stroke-width="1.4" />
<line x1="557.8" y1="157.5" x2="560.4" y2="468.5" stroke="#505050" stroke-width="1" />
<polygon points="558.4,160 565.2,162 567.6,466 561,468" fill="url(#cband)"/>
<polygon points="567.2,171.8 790.6,223.8 790.6,320 569.8,467" fill="#121416"/>
<polygon points="567.2,171.8 791,223.9 791,255.5 567.2,238.6" fill="url(#row1)"/>
<polygon points="567.2,237.6 791,254.5 791,289.3 567.2,309" fill="url(#row2)"/>
<polygon points="567.2,308 791,288.3 791,326.9 567.2,378.6" fill="url(#row3)"/>
<line x1="566.8" y1="170.6" x2="791" y2="222.8" stroke="#161616" stroke-width="2" />
<line x1="566.6" y1="171" x2="569.2" y2="467" stroke="#141414" stroke-width="1.8" />
<g clip-path="url(#cint_clip)">
<polygon points="567,316 627,311 627,364 567,378" fill="#000000" opacity="0.3"/>
<polygon points="567,172 791,224 791,231 567,179" fill="#000000" opacity="0.3"/>
<polygon points="773,222 790.6,226 790.6,330 773,336" fill="#1f1f1f"/>
<line x1="784" y1="235.5" x2="789.5" y2="236.3" stroke="#b9b9b9" stroke-width="1.2" />
<line x1="784" y1="238.8" x2="789.5" y2="239.6" stroke="#b9b9b9" stroke-width="1.2" />
<line x1="784" y1="242.1" x2="789.5" y2="242.9" stroke="#b9b9b9" stroke-width="1.2" />
<line x1="784" y1="245.4" x2="789.5" y2="246.2" stroke="#b9b9b9" stroke-width="1.2" />
<line x1="784" y1="305.5" x2="789.5" y2="306" stroke="#9a9a9a" stroke-width="1.2" />
<line x1="784" y1="308.8" x2="789.5" y2="309.3" stroke="#9a9a9a" stroke-width="1.2" />
<line x1="784" y1="312.1" x2="789.5" y2="312.6" stroke="#9a9a9a" stroke-width="1.2" />
<polygon points="571,388 700,356 700,400 571,470" fill="#000000" opacity="0.15"/>
<polygon points="567.5,238.6 790,255.4 790,257.8 567.5,241" fill="#4e4e4e"/>
<polygon points="567.5,241 790,257.8 790,261 567.5,244.2" fill="#343434"/>
<line x1="567.5" y1="244.7" x2="790" y2="261.5" stroke="#0c0c0c" stroke-width="1.3" opacity="0.8"/>
<polygon points="567.5,308.5 760,291.5 760,293.9 567.5,310.9" fill="#404040"/>
<polygon points="567.5,310.9 760,293.9 760,297.1 567.5,314.1" fill="#282828"/>
<line x1="567.5" y1="314.6" x2="760" y2="297.6" stroke="#0c0c0c" stroke-width="1.3" opacity="0.8"/>
<polygon points="567.5,377.5 745,336.5 745,338.9 567.5,379.9" fill="#323435"/>
<polygon points="567.5,379.9 745,338.9 745,342.1 567.5,383.1" fill="#1d1f20"/>
<line x1="567.5" y1="383.6" x2="745" y2="342.6" stroke="#0c0c0c" stroke-width="1.3" opacity="0.8"/>
<polygon points="622.5,186 628,187 630,430 624.5,432" fill="#000000" opacity="0.42"/>
<polygon points="628,187 644,191 648,420 630,430" fill="#000000" opacity="0.16"/>
<line x1="644.4" y1="191" x2="648.4" y2="420" stroke="#101010" stroke-width="1.2" opacity="0.7"/>
<polygon points="636,286 646.5,284 648.5,420 638,428" fill="#000000" opacity="0.35"/>
<polygon points="741,213 746,214 747.5,350 742.5,352" fill="#000000" opacity="0.4"/>
<polygon points="746,214 758.5,217 760,345 747.5,350" fill="#ffffff" opacity="0.07"/>
<polygon points="571,446 640,418 660,418 571,466" fill="#1a1b1d"/>
<polygon points="571,457.5 612,441.5 618,444.5 571,465" fill="#2b2b2b"/>
<line x1="580" y1="449.5" x2="586.5" y2="444" stroke="#3d3d3d" stroke-width="1.1" />
<line x1="583.6" y1="448.1" x2="590.1" y2="442.6" stroke="#3d3d3d" stroke-width="1.1" />
<line x1="587.2" y1="446.6" x2="593.7" y2="441.1" stroke="#3d3d3d" stroke-width="1.1" />
<line x1="590.8" y1="445.1" x2="597.3" y2="439.6" stroke="#3d3d3d" stroke-width="1.1" />
<line x1="594.4" y1="443.7" x2="600.9" y2="438.2" stroke="#3d3d3d" stroke-width="1.1" />
<line x1="598" y1="442.2" x2="604.5" y2="436.8" stroke="#3d3d3d" stroke-width="1.1" />
<line x1="601.6" y1="440.8" x2="608.1" y2="435.3" stroke="#3d3d3d" stroke-width="1.1" />
<line x1="605.2" y1="439.4" x2="611.7" y2="433.9" stroke="#3d3d3d" stroke-width="1.1" />
<line x1="579" y1="452.2" x2="588" y2="449" stroke="#8a8a8a" stroke-width="0.9" />
<path d="M585.8 181.8 C587 200 586.5 215 584.5 226 C581 244 574 258 570.8 269" fill="none" stroke="#9c9c9c" stroke-width="1.4" stroke-linecap="round" />
<path d="M600.8 188 C607 198 614 206 619.5 215.5 S633 238 637 248 L639.5 255.5" fill="none" stroke="#6a2e30" stroke-width="1.4" stroke-linecap="round" />
<path d="M602 187.6 C608.2 197.6 615.2 205.6 620.7 215.1 S634.2 237.6 638.2 247.6" fill="none" stroke="#161616" stroke-width="1" stroke-linecap="round" />
<path d="M686.6 208.5 C664 212 648 240 650 275 S664 320 670 345 S676 385 668 404" fill="none" stroke="#0b0b0b" stroke-width="1.7" stroke-linecap="round" />
<path d="M686.6 208.5 C700 209 712 212 720 222 S740 246 751 253" fill="none" stroke="#0d0d0d" stroke-width="1.6" stroke-linecap="round" />
<path d="M752 256 C760 252 768 244 772 237" fill="none" stroke="#a0333c" stroke-width="1.2" stroke-linecap="round" />
<path d="M754 258 C757 262 757 270 756 280" fill="none" stroke="#7a2f38" stroke-width="1" stroke-linecap="round" />
<path d="M775 240.5 C779 262 771 280 778 303 S776 318 770 322" fill="none" stroke="#3f5283" stroke-width="1" stroke-linecap="round" />
<path d="M762 262 C768 280 774 292 772 318" fill="none" stroke="#8b8b96" stroke-width="0.9" stroke-linecap="round" />
<path d="M574 318 C573 350 590 395 616 420" fill="none" stroke="#a6a6a6" stroke-width="1.2" stroke-linecap="round" />
<path d="M572 300 C574 306 574 312 574 318" fill="none" stroke="#a6a6a6" stroke-width="1.1" stroke-linecap="round" />
<path d="M640 352 C655 372 668 378 686 382" fill="none" stroke="#b73b45" stroke-width="1.4" stroke-linecap="round" />
<path d="M637 360 C640 400 662 422 690 428" fill="none" stroke="#0d0d0d" stroke-width="1.3" stroke-linecap="round" />
<path d="M618 424 C622 402 650 398 668 402 S690 392 694 385" fill="none" stroke="#9a9a9a" stroke-width="1.1" stroke-linecap="round" />
<path d="M760 300 C768 296 775 300 778 310 S770 322 764 320" fill="none" stroke="#6a6a78" stroke-width="0.9" stroke-linecap="round" />
<path d="M700 352 C690 345 686 350 688 358" fill="none" stroke="#1a1a1a" stroke-width="1.2" stroke-linecap="round" />
<rect x="632" y="249" width="7" height="10" rx="1" fill="#4a4a4a"/>
<circle cx="640.5" cy="259" r="1.7" fill="#9a9a9a"/>
<rect x="744" y="251" width="7" height="9" rx="1" fill="#4a4a4a"/>
<rect x="636" y="346" width="4" height="8" fill="#111111"/>
<polygon points="701,348 735,340.5 737,353 706,371" fill="#8d8d8a"/>
<polygon points="705,350 733,343.5 734.5,351 709,365" fill="#bdbdb8"/>
<line x1="707" y1="349.5" x2="709.2" y2="364" stroke="#6b6b68" stroke-width="0.8" />
<line x1="710.8" y1="348.6" x2="713" y2="362" stroke="#6b6b68" stroke-width="0.8" />
<line x1="714.6" y1="347.7" x2="716.8" y2="360" stroke="#6b6b68" stroke-width="0.8" />
<line x1="718.4" y1="346.8" x2="720.6" y2="358" stroke="#6b6b68" stroke-width="0.8" />
<line x1="722.2" y1="345.9" x2="724.4" y2="356" stroke="#6b6b68" stroke-width="0.8" />
<line x1="726" y1="345" x2="728.2" y2="354" stroke="#6b6b68" stroke-width="0.8" />
<line x1="729.8" y1="344.1" x2="732" y2="352" stroke="#6b6b68" stroke-width="0.8" />
<polygon points="697,350 703,348 706,371 700,374" fill="#171717"/>
<polygon points="682.5,361.5 690,359 695.5,380 688.5,383.5" fill="#e9e9ea"/>
<rect x="683.4" y="363.5" width="3.6" height="3.6" fill="#2d63b5"/>
</g>
<line x1="651.4" y1="197.2" x2="702.6" y2="270.6" stroke="#141414" stroke-width="6.6" />
<line x1="652.6" y1="196.4" x2="703.8" y2="269.8" stroke="#474747" stroke-width="1.4" />
<line x1="702.6" y1="270.6" x2="753.5" y2="339" stroke="#a9a9a9" stroke-width="2.8" />
<line x1="722" y1="296.3" x2="753.5" y2="339" stroke="#f1f1f1" stroke-width="2.6" />
<circle cx="651.2" cy="197.0" r="2.4" fill="#9a9a9a"/>
<line x1="763" y1="222.3" x2="806" y2="269" stroke="#2e2e2e" stroke-width="6.2" />
<line x1="764.2" y1="221.4" x2="807.2" y2="268.1" stroke="#5a5a5a" stroke-width="1.3" />
<line x1="806" y1="269" x2="832" y2="297" stroke="#6e6e6e" stroke-width="2.3" />
<circle cx="762.6" cy="222.0" r="2.0" fill="#9a9a9a"/>
<line x1="794.6" y1="219" x2="794.6" y2="316" stroke="#5a5a5a" stroke-width="1.2" />
<polygon points="819.5,330.2 908.2,292.7 887.7,308.6 867.3,324.5 842.3,340.5 817.3,355.2 792.3,370 769.5,383.6 760,390.5 712,415 670,437.7 626,464 600,478.8 580,489.6" fill="url(#dunder)"/>
<polygon points="802.5,305.2 819.5,330.2 580,489.6 569.6,467.3" fill="url(#dface)"/>
<line x1="802.5" y1="305.2" x2="569.6" y2="467.3" stroke="#505050" stroke-width="0.9" />
<polygon points="802.5,305.2 900.2,284.1 908.2,292.7 819.5,330.2" fill="url(#dtop)"/>
<line x1="802.5" y1="305.4" x2="900.2" y2="284.3" stroke="#747474" stroke-width="0.9" />
<line x1="819.5" y1="330" x2="908" y2="292.9" stroke="#6e6e6e" stroke-width="1" />
<polygon points="848.5,296.2 851.5,295.5 855.5,301.5 852,302.5" fill="#1d1d1d"/>
<polygon points="885.5,288 887.8,287.5 890.5,291.5 888,292.3" fill="#1d1d1d"/>
<line x1="540.5" y1="236.5" x2="549.5" y2="236" stroke="#b5b5b5" stroke-width="2.6" />
<line x1="544" y1="391" x2="552.5" y2="390" stroke="#b5b5b5" stroke-width="2.4" />
<polygon points="628.5,170 630,166.5 632.5,167 632.5,176 628.5,175" fill="#a8a8a8"/>
<polygon points="760,207.5 761,204.5 762.5,205 762.5,210.5 760,210" fill="#b0b0b0"/>
</g></g>
<g id="leaders"><polyline points="556,110.5 544.2,110.5 544.2,143" fill="none" stroke="#1f3154" stroke-width="1.4" />
<line x1="538.5" y1="144.3" x2="555" y2="140.9" stroke="#1f3154" stroke-width="1.4" />
<line x1="538.5" y1="143.8" x2="538.5" y2="160" stroke="#1f3154" stroke-width="1.4" />
<line x1="556.4" y1="140.6" x2="556.4" y2="157" stroke="#1f3154" stroke-width="1.4" />
<polygon points="538.3,144.4 543.6,140.6 544.4,145.6" fill="#1f3154"/>
<polygon points="555.6,140.8 550.2,139.4 551.2,144.4" fill="#1f3154"/>
<line x1="558" y1="141.4" x2="794" y2="205.6" stroke="#1f3154" stroke-width="1.4" />
<polygon points="557.4,141.2 563.2,140 561.8,145.2" fill="#1f3154"/>
<polygon points="794.6,205.8 788.9,207 790.2,201.8" fill="#1f3154"/>
<line x1="795" y1="204.5" x2="795" y2="219" stroke="#1f3154" stroke-width="1.4" />
<polyline points="788,160.7 732.6,160.7 693.8,178.7" fill="none" stroke="#1f3154" stroke-width="1.4" />
<polyline points="517,503 502.6,503 502.6,391.8 535,391.8" fill="none" stroke="#1f3154" stroke-width="1.4" />
<circle cx="537.2" cy="391.8" r="2.6" fill="#1f3154"/>
<polyline points="743.5,324.5 786.9,428.3 798.5,428.3" fill="none" stroke="#1f3154" stroke-width="1.4" />
<polyline points="685.5,366 773.1,494.5 798.6,494.5" fill="none" stroke="#1f3154" stroke-width="1.4" /></g>
<g id="labels">
</g>
</svg>
<h1 class="t" style="left:30.0px;top:24.0px;font-size:33.0px">設置・メンテナンス構造</h1>
<p class="t" style="left:562.0px;top:102.0px;font-size:16.0px">ブラケット厚み : 約 <b>25-30 mm</b></p>
<p class="t" style="left:794.0px;top:152.0px;font-size:16.0px">全体奥行き : 約 <b>190 mm</b></p>
<p class="t" style="left:794.0px;top:173.0px;font-size:16.0px">(キャビネット + ブラケット)</p>
<p class="t" style="left:522.0px;top:495.0px;font-size:16.0px">全体奥行き: 約 <b>190 mm</b></p>
<p class="t" style="left:522.0px;top:516.0px;font-size:16.0px">(キャビネット + ブラケット)</p>
<p class="t" style="left:805.0px;top:420.0px;font-size:16.0px">油圧式フロントオープン機構</p>
<p class="t" style="left:805.0px;top:441.0px;font-size:16.0px">(Hydraulic Front Open)</p>
<p class="t" style="left:805.0px;top:486.0px;font-size:16.0px">前面から内部パーツへ容</p>
<p class="t" style="left:805.0px;top:506.0px;font-size:16.0px">易にアクセス可能</p>
</div>
</body>
</html>
